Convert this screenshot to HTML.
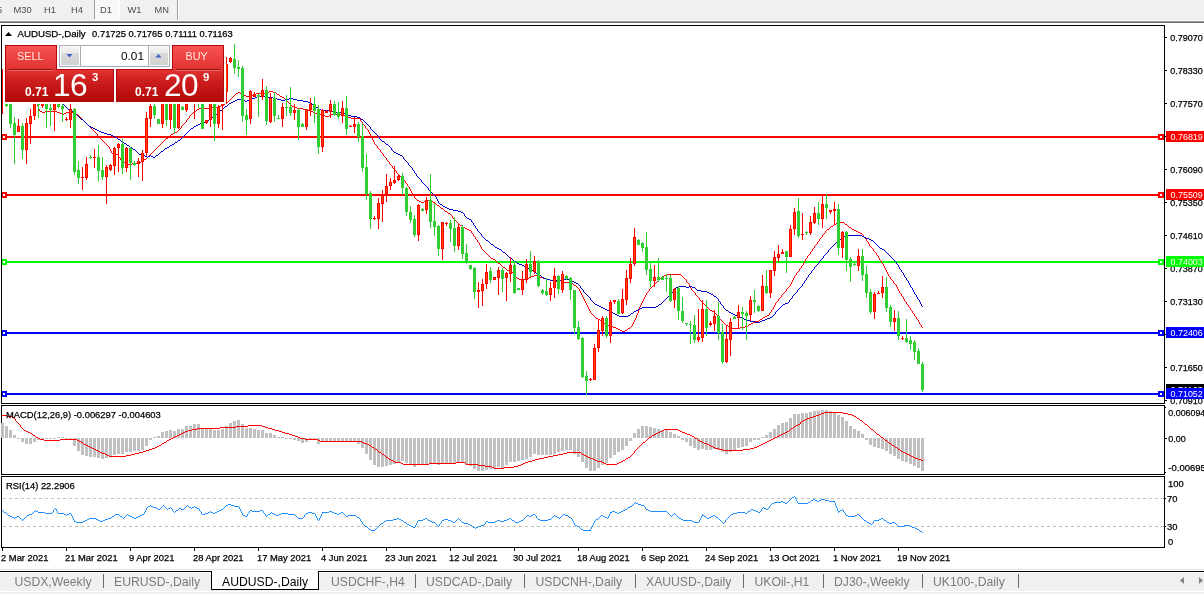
<!DOCTYPE html>
<html><head><meta charset="utf-8"><title>AUDUSD-,Daily</title>
<style>
html,body{margin:0;padding:0;background:#fff;}
body{width:1204px;height:594px;overflow:hidden;position:relative;font-family:"Liberation Sans",sans-serif;}
#tb{position:absolute;left:0;top:0;width:1204px;height:21px;background:#f0f0f0;}
#tb .l1{position:absolute;left:0;top:21px;width:1204px;height:1px;background:#a0a0a0;}
#tb .l2{position:absolute;left:0;top:22px;width:1204px;height:1px;background:#696969;}
#tb span{position:absolute;top:4px;font-size:9.3px;color:#4a4a4a;line-height:12px;white-space:nowrap;}
#tb .sep{position:absolute;top:0;width:1px;height:20px;background:#a0a0a0;}
#tb .sepw{position:absolute;top:0;width:1px;height:20px;background:#fff;}
#d1{position:absolute;left:95px;top:0;width:24px;height:19px;background-image:repeating-conic-gradient(#fff 0% 25%, #f0f0f0 0% 50%);background-size:2px 2px;}
svg{position:absolute;left:0;top:0;}
.ax{font-size:9.4px;fill:#000;stroke:#000;stroke-width:0.25px;font-family:"Liberation Sans",sans-serif;}
.axw{font-size:9.4px;fill:#fff;font-family:"Liberation Sans",sans-serif;}
#tabs{position:absolute;left:0;top:569px;width:1204px;height:25px;background:#f0f0f0;}
#tabs .t{position:absolute;top:6px;font-size:12.2px;color:#7a7a7a;line-height:14px;white-space:nowrap;}
#tabs .s{position:absolute;top:5px;width:1px;height:14px;background:#6a6a6a;}
#tabs .act{position:absolute;left:211px;top:2px;width:106px;height:18px;background:#fff;border:1px solid #000;border-top:none;}
#tabs .act span{position:absolute;left:10px;top:4px;font-size:12.2px;color:#000;line-height:14px;white-space:nowrap;}
/* trade panel */
.tp{position:absolute;font-family:"Liberation Sans",sans-serif;color:#fff;}
</style></head><body>

<div id="tb"><div class="l1"></div><div class="l2"></div>
<div class="sep" style="left:94px;height:19px"></div><div id="d1"></div><div class="sepw" style="left:119px;height:20px"></div><div style="position:absolute;left:94px;top:19px;width:26px;height:1px;background:#fff"></div>
<div class="sep" style="left:177px"></div><div class="sepw" style="left:178px"></div>
<span style="left:-3px">5</span>
<span style="left:13.5px">M30</span>
<span style="left:44px">H1</span>
<span style="left:71px">H4</span>
<span style="left:100px">D1</span>
<span style="left:127.5px">W1</span>
<span style="left:154.5px">MN</span>
</div>
<svg width="1204" height="594" viewBox="0 0 1204 594" shape-rendering="crispEdges">
<g fill="#000">
<rect x="1" y="25" width="1164" height="1"/><rect x="1" y="25" width="1" height="379"/><rect x="1" y="403" width="1164" height="1"/><rect x="1164" y="25" width="1" height="379"/>
<rect x="1" y="405" width="1164" height="1"/><rect x="1" y="405" width="1" height="70"/><rect x="1" y="474" width="1164" height="1"/><rect x="1164" y="405" width="1" height="70"/>
<rect x="1" y="476" width="1164" height="1"/><rect x="1" y="476" width="1" height="72"/><rect x="1" y="547" width="1164" height="1"/><rect x="1164" y="476" width="1" height="72"/>
<rect x="1165" y="37" width="2" height="1"/>
<rect x="1165" y="70" width="2" height="1"/>
<rect x="1165" y="103" width="2" height="1"/>
<rect x="1165" y="136" width="2" height="1"/>
<rect x="1165" y="169" width="2" height="1"/>
<rect x="1165" y="202" width="2" height="1"/>
<rect x="1165" y="235" width="2" height="1"/>
<rect x="1165" y="268" width="2" height="1"/>
<rect x="1165" y="301" width="2" height="1"/>
<rect x="1165" y="334" width="2" height="1"/>
<rect x="1165" y="367" width="2" height="1"/>
<rect x="1165" y="400" width="2" height="1"/>
<rect x="1165" y="407" width="1" height="1"/><rect x="1165" y="438" width="2" height="1"/><rect x="1165" y="472" width="1" height="1"/>
<rect x="1165" y="498" width="1" height="1"/><rect x="1165" y="526" width="1" height="1"/>
<rect x="2" y="548" width="1" height="3"/>
<rect x="66" y="548" width="1" height="3"/>
<rect x="130" y="548" width="1" height="3"/>
<rect x="194" y="548" width="1" height="3"/>
<rect x="258" y="548" width="1" height="3"/>
<rect x="322" y="548" width="1" height="3"/>
<rect x="386" y="548" width="1" height="3"/>
<rect x="450" y="548" width="1" height="3"/>
<rect x="514" y="548" width="1" height="3"/>
<rect x="578" y="548" width="1" height="3"/>
<rect x="642" y="548" width="1" height="3"/>
<rect x="706" y="548" width="1" height="3"/>
<rect x="770" y="548" width="1" height="3"/>
<rect x="834" y="548" width="1" height="3"/>
<rect x="898" y="548" width="1" height="3"/>
</g>
<g>
<rect x="2" y="136" width="1162" height="2" fill="#ff0000"/><rect x="1" y="134" width="6" height="6" fill="#ff0000"/><rect x="3" y="136" width="2" height="2" fill="#fff"/><rect x="1158" y="134" width="6" height="6" fill="#ff0000"/><rect x="1160" y="136" width="2" height="2" fill="#fff"/>
<rect x="2" y="194" width="1162" height="2" fill="#ff0000"/><rect x="1" y="192" width="6" height="6" fill="#ff0000"/><rect x="3" y="194" width="2" height="2" fill="#fff"/><rect x="1158" y="192" width="6" height="6" fill="#ff0000"/><rect x="1160" y="194" width="2" height="2" fill="#fff"/>
<rect x="2" y="261" width="1162" height="2" fill="#00ff00"/><rect x="1" y="259" width="6" height="6" fill="#00ff00"/><rect x="3" y="261" width="2" height="2" fill="#fff"/><rect x="1158" y="259" width="6" height="6" fill="#00ff00"/><rect x="1160" y="261" width="2" height="2" fill="#fff"/>
<rect x="2" y="332" width="1162" height="2" fill="#0000ff"/><rect x="1" y="330" width="6" height="6" fill="#0000ff"/><rect x="3" y="332" width="2" height="2" fill="#fff"/><rect x="1158" y="330" width="6" height="6" fill="#0000ff"/><rect x="1160" y="332" width="2" height="2" fill="#fff"/>
<rect x="2" y="393" width="1162" height="2" fill="#0000ff"/><rect x="1" y="391" width="6" height="6" fill="#0000ff"/><rect x="3" y="393" width="2" height="2" fill="#fff"/><rect x="1158" y="391" width="6" height="6" fill="#0000ff"/><rect x="1160" y="393" width="2" height="2" fill="#fff"/>
</g>
<g stroke="#c0c0c0" stroke-width="1" stroke-dasharray="3,3">
<line x1="3" y1="498.5" x2="1164" y2="498.5"/><line x1="3" y1="526.5" x2="1164" y2="526.5"/>
</g>
<g><rect x="1" y="423" width="3" height="15" fill="#c0c0c0"/>
<rect x="5" y="426" width="3" height="12" fill="#c0c0c0"/>
<rect x="9" y="430" width="3" height="8" fill="#c0c0c0"/>
<rect x="13" y="435" width="3" height="3" fill="#c0c0c0"/>
<rect x="17" y="438" width="3" height="1" fill="#c0c0c0"/>
<rect x="21" y="438" width="3" height="4" fill="#c0c0c0"/>
<rect x="25" y="438" width="3" height="6" fill="#c0c0c0"/>
<rect x="29" y="438" width="3" height="6" fill="#c0c0c0"/>
<rect x="33" y="438" width="3" height="4" fill="#c0c0c0"/>
<rect x="37" y="438" width="3" height="2" fill="#c0c0c0"/>
<rect x="41" y="438" width="3" height="2" fill="#c0c0c0"/>
<rect x="45" y="438" width="3" height="1" fill="#c0c0c0"/>
<rect x="49" y="438" width="3" height="1" fill="#c0c0c0"/>
<rect x="53" y="438" width="3" height="1" fill="#c0c0c0"/>
<rect x="57" y="437" width="3" height="1" fill="#c0c0c0"/>
<rect x="61" y="437" width="3" height="1" fill="#c0c0c0"/>
<rect x="65" y="438" width="3" height="1" fill="#c0c0c0"/>
<rect x="69" y="438" width="3" height="1" fill="#c0c0c0"/>
<rect x="73" y="438" width="3" height="8" fill="#c0c0c0"/>
<rect x="77" y="438" width="3" height="13" fill="#c0c0c0"/>
<rect x="81" y="438" width="3" height="17" fill="#c0c0c0"/>
<rect x="85" y="438" width="3" height="18" fill="#c0c0c0"/>
<rect x="89" y="438" width="3" height="19" fill="#c0c0c0"/>
<rect x="93" y="438" width="3" height="19" fill="#c0c0c0"/>
<rect x="97" y="438" width="3" height="20" fill="#c0c0c0"/>
<rect x="101" y="438" width="3" height="21" fill="#c0c0c0"/>
<rect x="105" y="438" width="3" height="20" fill="#c0c0c0"/>
<rect x="109" y="438" width="3" height="18" fill="#c0c0c0"/>
<rect x="113" y="438" width="3" height="17" fill="#c0c0c0"/>
<rect x="117" y="438" width="3" height="16" fill="#c0c0c0"/>
<rect x="121" y="438" width="3" height="16" fill="#c0c0c0"/>
<rect x="125" y="438" width="3" height="14" fill="#c0c0c0"/>
<rect x="129" y="438" width="3" height="14" fill="#c0c0c0"/>
<rect x="133" y="438" width="3" height="13" fill="#c0c0c0"/>
<rect x="137" y="438" width="3" height="13" fill="#c0c0c0"/>
<rect x="141" y="438" width="3" height="12" fill="#c0c0c0"/>
<rect x="145" y="438" width="3" height="8" fill="#c0c0c0"/>
<rect x="149" y="438" width="3" height="2" fill="#c0c0c0"/>
<rect x="153" y="437" width="3" height="1" fill="#c0c0c0"/>
<rect x="157" y="436" width="3" height="2" fill="#c0c0c0"/>
<rect x="161" y="432" width="3" height="6" fill="#c0c0c0"/>
<rect x="165" y="431" width="3" height="7" fill="#c0c0c0"/>
<rect x="169" y="430" width="3" height="8" fill="#c0c0c0"/>
<rect x="173" y="431" width="3" height="7" fill="#c0c0c0"/>
<rect x="177" y="429" width="3" height="9" fill="#c0c0c0"/>
<rect x="181" y="429" width="3" height="9" fill="#c0c0c0"/>
<rect x="185" y="426" width="3" height="12" fill="#c0c0c0"/>
<rect x="189" y="426" width="3" height="12" fill="#c0c0c0"/>
<rect x="193" y="424" width="3" height="14" fill="#c0c0c0"/>
<rect x="197" y="424" width="3" height="14" fill="#c0c0c0"/>
<rect x="201" y="428" width="3" height="10" fill="#c0c0c0"/>
<rect x="205" y="428" width="3" height="10" fill="#c0c0c0"/>
<rect x="209" y="428" width="3" height="10" fill="#c0c0c0"/>
<rect x="213" y="430" width="3" height="8" fill="#c0c0c0"/>
<rect x="217" y="430" width="3" height="8" fill="#c0c0c0"/>
<rect x="221" y="429" width="3" height="9" fill="#c0c0c0"/>
<rect x="225" y="426" width="3" height="12" fill="#c0c0c0"/>
<rect x="229" y="423" width="3" height="15" fill="#c0c0c0"/>
<rect x="233" y="421" width="3" height="17" fill="#c0c0c0"/>
<rect x="237" y="420" width="3" height="18" fill="#c0c0c0"/>
<rect x="241" y="424" width="3" height="14" fill="#c0c0c0"/>
<rect x="245" y="428" width="3" height="10" fill="#c0c0c0"/>
<rect x="249" y="428" width="3" height="10" fill="#c0c0c0"/>
<rect x="253" y="429" width="3" height="9" fill="#c0c0c0"/>
<rect x="257" y="430" width="3" height="8" fill="#c0c0c0"/>
<rect x="261" y="430" width="3" height="8" fill="#c0c0c0"/>
<rect x="265" y="433" width="3" height="5" fill="#c0c0c0"/>
<rect x="269" y="433" width="3" height="5" fill="#c0c0c0"/>
<rect x="273" y="435" width="3" height="3" fill="#c0c0c0"/>
<rect x="277" y="437" width="3" height="1" fill="#c0c0c0"/>
<rect x="281" y="437" width="3" height="1" fill="#c0c0c0"/>
<rect x="285" y="438" width="3" height="1" fill="#c0c0c0"/>
<rect x="289" y="438" width="3" height="1" fill="#c0c0c0"/>
<rect x="293" y="438" width="3" height="2" fill="#c0c0c0"/>
<rect x="297" y="438" width="3" height="3" fill="#c0c0c0"/>
<rect x="301" y="438" width="3" height="5" fill="#c0c0c0"/>
<rect x="305" y="438" width="3" height="4" fill="#c0c0c0"/>
<rect x="309" y="438" width="3" height="2" fill="#c0c0c0"/>
<rect x="313" y="438" width="3" height="2" fill="#c0c0c0"/>
<rect x="317" y="438" width="3" height="6" fill="#c0c0c0"/>
<rect x="321" y="438" width="3" height="4" fill="#c0c0c0"/>
<rect x="325" y="438" width="3" height="4" fill="#c0c0c0"/>
<rect x="329" y="438" width="3" height="4" fill="#c0c0c0"/>
<rect x="333" y="438" width="3" height="4" fill="#c0c0c0"/>
<rect x="337" y="438" width="3" height="4" fill="#c0c0c0"/>
<rect x="341" y="438" width="3" height="4" fill="#c0c0c0"/>
<rect x="345" y="438" width="3" height="4" fill="#c0c0c0"/>
<rect x="349" y="438" width="3" height="4" fill="#c0c0c0"/>
<rect x="353" y="438" width="3" height="4" fill="#c0c0c0"/>
<rect x="357" y="438" width="3" height="6" fill="#c0c0c0"/>
<rect x="361" y="438" width="3" height="10" fill="#c0c0c0"/>
<rect x="365" y="438" width="3" height="16" fill="#c0c0c0"/>
<rect x="369" y="438" width="3" height="22" fill="#c0c0c0"/>
<rect x="373" y="438" width="3" height="27" fill="#c0c0c0"/>
<rect x="377" y="438" width="3" height="29" fill="#c0c0c0"/>
<rect x="381" y="438" width="3" height="29" fill="#c0c0c0"/>
<rect x="385" y="438" width="3" height="28" fill="#c0c0c0"/>
<rect x="389" y="438" width="3" height="27" fill="#c0c0c0"/>
<rect x="393" y="438" width="3" height="26" fill="#c0c0c0"/>
<rect x="397" y="438" width="3" height="24" fill="#c0c0c0"/>
<rect x="401" y="438" width="3" height="23" fill="#c0c0c0"/>
<rect x="405" y="438" width="3" height="25" fill="#c0c0c0"/>
<rect x="409" y="438" width="3" height="26" fill="#c0c0c0"/>
<rect x="413" y="438" width="3" height="29" fill="#c0c0c0"/>
<rect x="417" y="438" width="3" height="27" fill="#c0c0c0"/>
<rect x="421" y="438" width="3" height="27" fill="#c0c0c0"/>
<rect x="425" y="438" width="3" height="26" fill="#c0c0c0"/>
<rect x="429" y="438" width="3" height="26" fill="#c0c0c0"/>
<rect x="433" y="438" width="3" height="26" fill="#c0c0c0"/>
<rect x="437" y="438" width="3" height="27" fill="#c0c0c0"/>
<rect x="441" y="438" width="3" height="26" fill="#c0c0c0"/>
<rect x="445" y="438" width="3" height="26" fill="#c0c0c0"/>
<rect x="449" y="438" width="3" height="25" fill="#c0c0c0"/>
<rect x="453" y="438" width="3" height="25" fill="#c0c0c0"/>
<rect x="457" y="438" width="3" height="24" fill="#c0c0c0"/>
<rect x="461" y="438" width="3" height="24" fill="#c0c0c0"/>
<rect x="465" y="438" width="3" height="27" fill="#c0c0c0"/>
<rect x="469" y="438" width="3" height="28" fill="#c0c0c0"/>
<rect x="473" y="438" width="3" height="31" fill="#c0c0c0"/>
<rect x="477" y="438" width="3" height="33" fill="#c0c0c0"/>
<rect x="481" y="438" width="3" height="33" fill="#c0c0c0"/>
<rect x="485" y="438" width="3" height="32" fill="#c0c0c0"/>
<rect x="489" y="438" width="3" height="31" fill="#c0c0c0"/>
<rect x="493" y="438" width="3" height="31" fill="#c0c0c0"/>
<rect x="497" y="438" width="3" height="29" fill="#c0c0c0"/>
<rect x="501" y="438" width="3" height="31" fill="#c0c0c0"/>
<rect x="505" y="438" width="3" height="27" fill="#c0c0c0"/>
<rect x="509" y="438" width="3" height="24" fill="#c0c0c0"/>
<rect x="513" y="438" width="3" height="24" fill="#c0c0c0"/>
<rect x="517" y="438" width="3" height="23" fill="#c0c0c0"/>
<rect x="521" y="438" width="3" height="22" fill="#c0c0c0"/>
<rect x="525" y="438" width="3" height="21" fill="#c0c0c0"/>
<rect x="529" y="438" width="3" height="19" fill="#c0c0c0"/>
<rect x="533" y="438" width="3" height="16" fill="#c0c0c0"/>
<rect x="537" y="438" width="3" height="17" fill="#c0c0c0"/>
<rect x="541" y="438" width="3" height="17" fill="#c0c0c0"/>
<rect x="545" y="438" width="3" height="17" fill="#c0c0c0"/>
<rect x="549" y="438" width="3" height="17" fill="#c0c0c0"/>
<rect x="553" y="438" width="3" height="16" fill="#c0c0c0"/>
<rect x="557" y="438" width="3" height="14" fill="#c0c0c0"/>
<rect x="561" y="438" width="3" height="13" fill="#c0c0c0"/>
<rect x="565" y="438" width="3" height="12" fill="#c0c0c0"/>
<rect x="569" y="438" width="3" height="12" fill="#c0c0c0"/>
<rect x="573" y="438" width="3" height="16" fill="#c0c0c0"/>
<rect x="577" y="438" width="3" height="19" fill="#c0c0c0"/>
<rect x="581" y="438" width="3" height="24" fill="#c0c0c0"/>
<rect x="585" y="438" width="3" height="30" fill="#c0c0c0"/>
<rect x="589" y="438" width="3" height="33" fill="#c0c0c0"/>
<rect x="593" y="438" width="3" height="33" fill="#c0c0c0"/>
<rect x="597" y="438" width="3" height="30" fill="#c0c0c0"/>
<rect x="601" y="438" width="3" height="27" fill="#c0c0c0"/>
<rect x="605" y="438" width="3" height="25" fill="#c0c0c0"/>
<rect x="609" y="438" width="3" height="20" fill="#c0c0c0"/>
<rect x="613" y="438" width="3" height="17" fill="#c0c0c0"/>
<rect x="617" y="438" width="3" height="14" fill="#c0c0c0"/>
<rect x="621" y="438" width="3" height="12" fill="#c0c0c0"/>
<rect x="625" y="438" width="3" height="8" fill="#c0c0c0"/>
<rect x="629" y="438" width="3" height="3" fill="#c0c0c0"/>
<rect x="633" y="433" width="3" height="5" fill="#c0c0c0"/>
<rect x="637" y="429" width="3" height="9" fill="#c0c0c0"/>
<rect x="641" y="426" width="3" height="12" fill="#c0c0c0"/>
<rect x="645" y="426" width="3" height="12" fill="#c0c0c0"/>
<rect x="649" y="427" width="3" height="11" fill="#c0c0c0"/>
<rect x="653" y="428" width="3" height="10" fill="#c0c0c0"/>
<rect x="657" y="429" width="3" height="9" fill="#c0c0c0"/>
<rect x="661" y="430" width="3" height="8" fill="#c0c0c0"/>
<rect x="665" y="430" width="3" height="8" fill="#c0c0c0"/>
<rect x="669" y="432" width="3" height="6" fill="#c0c0c0"/>
<rect x="673" y="434" width="3" height="4" fill="#c0c0c0"/>
<rect x="677" y="436" width="3" height="2" fill="#c0c0c0"/>
<rect x="681" y="438" width="3" height="2" fill="#c0c0c0"/>
<rect x="685" y="438" width="3" height="4" fill="#c0c0c0"/>
<rect x="689" y="438" width="3" height="8" fill="#c0c0c0"/>
<rect x="693" y="438" width="3" height="10" fill="#c0c0c0"/>
<rect x="697" y="438" width="3" height="12" fill="#c0c0c0"/>
<rect x="701" y="438" width="3" height="11" fill="#c0c0c0"/>
<rect x="705" y="438" width="3" height="12" fill="#c0c0c0"/>
<rect x="709" y="438" width="3" height="12" fill="#c0c0c0"/>
<rect x="713" y="438" width="3" height="11" fill="#c0c0c0"/>
<rect x="717" y="438" width="3" height="12" fill="#c0c0c0"/>
<rect x="721" y="438" width="3" height="14" fill="#c0c0c0"/>
<rect x="725" y="438" width="3" height="16" fill="#c0c0c0"/>
<rect x="729" y="438" width="3" height="14" fill="#c0c0c0"/>
<rect x="733" y="438" width="3" height="12" fill="#c0c0c0"/>
<rect x="737" y="438" width="3" height="10" fill="#c0c0c0"/>
<rect x="741" y="438" width="3" height="9" fill="#c0c0c0"/>
<rect x="745" y="438" width="3" height="8" fill="#c0c0c0"/>
<rect x="749" y="438" width="3" height="4" fill="#c0c0c0"/>
<rect x="753" y="438" width="3" height="2" fill="#c0c0c0"/>
<rect x="757" y="438" width="3" height="2" fill="#c0c0c0"/>
<rect x="761" y="437" width="3" height="1" fill="#c0c0c0"/>
<rect x="765" y="435" width="3" height="3" fill="#c0c0c0"/>
<rect x="769" y="432" width="3" height="6" fill="#c0c0c0"/>
<rect x="773" y="429" width="3" height="9" fill="#c0c0c0"/>
<rect x="777" y="425" width="3" height="13" fill="#c0c0c0"/>
<rect x="781" y="423" width="3" height="15" fill="#c0c0c0"/>
<rect x="785" y="422" width="3" height="16" fill="#c0c0c0"/>
<rect x="789" y="418" width="3" height="20" fill="#c0c0c0"/>
<rect x="793" y="414" width="3" height="24" fill="#c0c0c0"/>
<rect x="797" y="414" width="3" height="24" fill="#c0c0c0"/>
<rect x="801" y="413" width="3" height="25" fill="#c0c0c0"/>
<rect x="805" y="413" width="3" height="25" fill="#c0c0c0"/>
<rect x="809" y="412" width="3" height="26" fill="#c0c0c0"/>
<rect x="813" y="411" width="3" height="27" fill="#c0c0c0"/>
<rect x="817" y="411" width="3" height="27" fill="#c0c0c0"/>
<rect x="821" y="410" width="3" height="28" fill="#c0c0c0"/>
<rect x="825" y="410" width="3" height="28" fill="#c0c0c0"/>
<rect x="829" y="411" width="3" height="27" fill="#c0c0c0"/>
<rect x="833" y="412" width="3" height="26" fill="#c0c0c0"/>
<rect x="837" y="415" width="3" height="23" fill="#c0c0c0"/>
<rect x="841" y="417" width="3" height="21" fill="#c0c0c0"/>
<rect x="845" y="421" width="3" height="17" fill="#c0c0c0"/>
<rect x="849" y="426" width="3" height="12" fill="#c0c0c0"/>
<rect x="853" y="429" width="3" height="9" fill="#c0c0c0"/>
<rect x="857" y="431" width="3" height="7" fill="#c0c0c0"/>
<rect x="861" y="434" width="3" height="4" fill="#c0c0c0"/>
<rect x="865" y="438" width="3" height="2" fill="#c0c0c0"/>
<rect x="869" y="438" width="3" height="7" fill="#c0c0c0"/>
<rect x="873" y="438" width="3" height="9" fill="#c0c0c0"/>
<rect x="877" y="438" width="3" height="10" fill="#c0c0c0"/>
<rect x="881" y="438" width="3" height="11" fill="#c0c0c0"/>
<rect x="885" y="438" width="3" height="13" fill="#c0c0c0"/>
<rect x="889" y="438" width="3" height="16" fill="#c0c0c0"/>
<rect x="893" y="438" width="3" height="18" fill="#c0c0c0"/>
<rect x="897" y="438" width="3" height="21" fill="#c0c0c0"/>
<rect x="901" y="438" width="3" height="23" fill="#c0c0c0"/>
<rect x="905" y="438" width="3" height="24" fill="#c0c0c0"/>
<rect x="909" y="438" width="3" height="26" fill="#c0c0c0"/>
<rect x="913" y="438" width="3" height="28" fill="#c0c0c0"/>
<rect x="917" y="438" width="3" height="30" fill="#c0c0c0"/>
<rect x="921" y="438" width="3" height="33" fill="#c0c0c0"/></g>
<g shape-rendering="crispEdges">
<path d="M2 415h1v1h-1zM3 415h1v1h-1zM4 415h1v1h-1zM5 415h1v1h-1zM6 415h1v1h-1zM7 416h1v1h-1zM8 416h1v1h-1zM9 416h1v1h-1zM10 416h1v1h-1zM11 416h1v1h-1zM12 416h1v1h-1zM13 417h1v1h-1zM14 418h1v1h-1zM15 419h1v2h-1zM16 421h1v1h-1zM17 422h1v1h-1zM18 423h1v1h-1zM19 424h1v1h-1zM20 425h1v2h-1zM21 427h1v1h-1zM22 428h1v1h-1zM23 429h1v1h-1zM24 430h1v1h-1zM25 430h1v1h-1zM26 431h1v1h-1zM27 431h1v1h-1zM28 432h1v1h-1zM29 432h1v1h-1zM30 433h1v1h-1zM31 433h1v1h-1zM32 434h1v1h-1zM33 435h1v1h-1zM34 435h1v1h-1zM35 436h1v1h-1zM36 437h1v1h-1zM37 437h1v1h-1zM38 438h1v1h-1zM39 438h1v1h-1zM40 439h1v1h-1zM41 439h1v1h-1zM42 439h1v1h-1zM43 439h1v1h-1zM44 440h1v1h-1zM45 440h1v1h-1zM46 440h1v1h-1zM47 440h1v1h-1zM48 440h1v1h-1zM49 440h1v1h-1zM50 440h1v1h-1zM51 440h1v1h-1zM52 440h1v1h-1zM53 440h1v1h-1zM54 440h1v1h-1zM55 440h1v1h-1zM56 440h1v1h-1zM57 440h1v1h-1zM58 440h1v1h-1zM59 440h1v1h-1zM60 439h1v1h-1zM61 439h1v1h-1zM62 439h1v1h-1zM63 439h1v1h-1zM64 439h1v1h-1zM65 439h1v1h-1zM66 439h1v1h-1zM67 439h1v1h-1zM68 439h1v1h-1zM69 439h1v1h-1zM70 439h1v1h-1zM71 439h1v1h-1zM72 439h1v1h-1zM73 439h1v1h-1zM74 439h1v1h-1zM75 439h1v1h-1zM76 439h1v1h-1zM77 440h1v1h-1zM78 440h1v1h-1zM79 441h1v1h-1zM80 441h1v1h-1zM81 442h1v1h-1zM82 442h1v1h-1zM83 443h1v1h-1zM84 444h1v1h-1zM85 444h1v1h-1zM86 445h1v1h-1zM87 445h1v1h-1zM88 446h1v1h-1zM89 446h1v1h-1zM90 447h1v1h-1zM91 447h1v1h-1zM92 448h1v1h-1zM93 448h1v1h-1zM94 449h1v1h-1zM95 449h1v1h-1zM96 450h1v1h-1zM97 450h1v1h-1zM98 451h1v1h-1zM99 451h1v1h-1zM100 452h1v1h-1zM101 452h1v1h-1zM102 453h1v1h-1zM103 453h1v1h-1zM104 453h1v1h-1zM105 454h1v1h-1zM106 454h1v1h-1zM107 455h1v1h-1zM108 455h1v1h-1zM109 456h1v1h-1zM110 456h1v1h-1zM111 456h1v1h-1zM112 456h1v1h-1zM113 456h1v1h-1zM114 456h1v1h-1zM115 456h1v1h-1zM116 456h1v1h-1zM117 456h1v1h-1zM118 456h1v1h-1zM119 456h1v1h-1zM120 456h1v1h-1zM121 456h1v1h-1zM122 456h1v1h-1zM123 456h1v1h-1zM124 456h1v1h-1zM125 456h1v1h-1zM126 455h1v1h-1zM127 455h1v1h-1zM128 455h1v1h-1zM129 455h1v1h-1zM130 455h1v1h-1zM131 454h1v1h-1zM132 454h1v1h-1zM133 454h1v1h-1zM134 454h1v1h-1zM135 453h1v1h-1zM136 453h1v1h-1zM137 453h1v1h-1zM138 453h1v1h-1zM139 452h1v1h-1zM140 452h1v1h-1zM141 452h1v1h-1zM142 452h1v1h-1zM143 451h1v1h-1zM144 451h1v1h-1zM145 451h1v1h-1zM146 450h1v1h-1zM147 450h1v1h-1zM148 450h1v1h-1zM149 449h1v1h-1zM150 449h1v1h-1zM151 449h1v1h-1zM152 448h1v1h-1zM153 448h1v1h-1zM154 448h1v1h-1zM155 447h1v1h-1zM156 447h1v1h-1zM157 446h1v1h-1zM158 446h1v1h-1zM159 445h1v1h-1zM160 445h1v1h-1zM161 444h1v1h-1zM162 443h1v1h-1zM163 443h1v1h-1zM164 442h1v1h-1zM165 442h1v1h-1zM166 441h1v1h-1zM167 440h1v1h-1zM168 440h1v1h-1zM169 439h1v1h-1zM170 439h1v1h-1zM171 438h1v1h-1zM172 438h1v1h-1zM173 437h1v1h-1zM174 437h1v1h-1zM175 436h1v1h-1zM176 436h1v1h-1zM177 435h1v1h-1zM178 435h1v1h-1zM179 434h1v1h-1zM180 434h1v1h-1zM181 433h1v1h-1zM182 433h1v1h-1zM183 432h1v1h-1zM184 432h1v1h-1zM185 431h1v1h-1zM186 431h1v1h-1zM187 431h1v1h-1zM188 430h1v1h-1zM189 430h1v1h-1zM190 430h1v1h-1zM191 430h1v1h-1zM192 429h1v1h-1zM193 429h1v1h-1zM194 429h1v1h-1zM195 429h1v1h-1zM196 429h1v1h-1zM197 428h1v1h-1zM198 428h1v1h-1zM199 428h1v1h-1zM200 428h1v1h-1zM201 428h1v1h-1zM202 428h1v1h-1zM203 428h1v1h-1zM204 428h1v1h-1zM205 428h1v1h-1zM206 428h1v1h-1zM207 428h1v1h-1zM208 428h1v1h-1zM209 428h1v1h-1zM210 428h1v1h-1zM211 428h1v1h-1zM212 428h1v1h-1zM213 428h1v1h-1zM214 428h1v1h-1zM215 428h1v1h-1zM216 428h1v1h-1zM217 428h1v1h-1zM218 428h1v1h-1zM219 428h1v1h-1zM220 427h1v1h-1zM221 427h1v1h-1zM222 427h1v1h-1zM223 427h1v1h-1zM224 427h1v1h-1zM225 427h1v1h-1zM226 427h1v1h-1zM227 427h1v1h-1zM228 427h1v1h-1zM229 427h1v1h-1zM230 427h1v1h-1zM231 427h1v1h-1zM232 427h1v1h-1zM233 427h1v1h-1zM234 427h1v1h-1zM235 427h1v1h-1zM236 426h1v1h-1zM237 426h1v1h-1zM238 426h1v1h-1zM239 426h1v1h-1zM240 426h1v1h-1zM241 426h1v1h-1zM242 426h1v1h-1zM243 426h1v1h-1zM244 426h1v1h-1zM245 426h1v1h-1zM246 426h1v1h-1zM247 426h1v1h-1zM248 425h1v1h-1zM249 425h1v1h-1zM250 425h1v1h-1zM251 425h1v1h-1zM252 425h1v1h-1zM253 425h1v1h-1zM254 425h1v1h-1zM255 425h1v1h-1zM256 425h1v1h-1zM257 425h1v1h-1zM258 425h1v1h-1zM259 425h1v1h-1zM260 425h1v1h-1zM261 425h1v1h-1zM262 426h1v1h-1zM263 426h1v1h-1zM264 426h1v1h-1zM265 427h1v1h-1zM266 427h1v1h-1zM267 427h1v1h-1zM268 428h1v1h-1zM269 428h1v1h-1zM270 428h1v1h-1zM271 428h1v1h-1zM272 429h1v1h-1zM273 429h1v1h-1zM274 429h1v1h-1zM275 430h1v1h-1zM276 430h1v1h-1zM277 430h1v1h-1zM278 430h1v1h-1zM279 431h1v1h-1zM280 431h1v1h-1zM281 431h1v1h-1zM282 432h1v1h-1zM283 432h1v1h-1zM284 432h1v1h-1zM285 433h1v1h-1zM286 433h1v1h-1zM287 433h1v1h-1zM288 433h1v1h-1zM289 434h1v1h-1zM290 434h1v1h-1zM291 434h1v1h-1zM292 435h1v1h-1zM293 435h1v1h-1zM294 435h1v1h-1zM295 436h1v1h-1zM296 436h1v1h-1zM297 436h1v1h-1zM298 437h1v1h-1zM299 437h1v1h-1zM300 438h1v1h-1zM301 438h1v1h-1zM302 438h1v1h-1zM303 438h1v1h-1zM304 438h1v1h-1zM305 439h1v1h-1zM306 439h1v1h-1zM307 439h1v1h-1zM308 439h1v1h-1zM309 439h1v1h-1zM310 439h1v1h-1zM311 439h1v1h-1zM312 439h1v1h-1zM313 439h1v1h-1zM314 439h1v1h-1zM315 439h1v1h-1zM316 439h1v1h-1zM317 439h1v1h-1zM318 440h1v1h-1zM319 440h1v1h-1zM320 441h1v1h-1zM321 441h1v1h-1zM322 441h1v1h-1zM323 441h1v1h-1zM324 441h1v1h-1zM325 441h1v1h-1zM326 441h1v1h-1zM327 441h1v1h-1zM328 441h1v1h-1zM329 441h1v1h-1zM330 441h1v1h-1zM331 441h1v1h-1zM332 441h1v1h-1zM333 441h1v1h-1zM334 441h1v1h-1zM335 441h1v1h-1zM336 441h1v1h-1zM337 441h1v1h-1zM338 441h1v1h-1zM339 441h1v1h-1zM340 441h1v1h-1zM341 441h1v1h-1zM342 441h1v1h-1zM343 441h1v1h-1zM344 441h1v1h-1zM345 441h1v1h-1zM346 441h1v1h-1zM347 441h1v1h-1zM348 441h1v1h-1zM349 441h1v1h-1zM350 441h1v1h-1zM351 441h1v1h-1zM352 441h1v1h-1zM353 441h1v1h-1zM354 441h1v1h-1zM355 441h1v1h-1zM356 441h1v1h-1zM357 441h1v1h-1zM358 441h1v1h-1zM359 441h1v1h-1zM360 441h1v1h-1zM361 441h1v1h-1zM362 442h1v1h-1zM363 442h1v1h-1zM364 443h1v1h-1zM365 443h1v1h-1zM366 443h1v1h-1zM367 444h1v1h-1zM368 444h1v1h-1zM369 445h1v1h-1zM370 445h1v1h-1zM371 446h1v1h-1zM372 447h1v1h-1zM373 447h1v1h-1zM374 448h1v1h-1zM375 449h1v1h-1zM376 449h1v1h-1zM377 450h1v1h-1zM378 451h1v1h-1zM379 452h1v1h-1zM380 452h1v1h-1zM381 453h1v1h-1zM382 454h1v1h-1zM383 454h1v1h-1zM384 455h1v1h-1zM385 456h1v1h-1zM386 457h1v1h-1zM387 457h1v1h-1zM388 458h1v1h-1zM389 459h1v1h-1zM390 459h1v1h-1zM391 460h1v1h-1zM392 460h1v1h-1zM393 461h1v1h-1zM394 461h1v1h-1zM395 462h1v1h-1zM396 462h1v1h-1zM397 462h1v1h-1zM398 462h1v1h-1zM399 462h1v1h-1zM400 462h1v1h-1zM401 463h1v1h-1zM402 463h1v1h-1zM403 464h1v1h-1zM404 464h1v1h-1zM405 464h1v1h-1zM406 464h1v1h-1zM407 464h1v1h-1zM408 464h1v1h-1zM409 464h1v1h-1zM410 464h1v1h-1zM411 464h1v1h-1zM412 464h1v1h-1zM413 464h1v1h-1zM414 464h1v1h-1zM415 464h1v1h-1zM416 464h1v1h-1zM417 464h1v1h-1zM418 464h1v1h-1zM419 464h1v1h-1zM420 464h1v1h-1zM421 464h1v1h-1zM422 464h1v1h-1zM423 464h1v1h-1zM424 464h1v1h-1zM425 464h1v1h-1zM426 464h1v1h-1zM427 464h1v1h-1zM428 464h1v1h-1zM429 463h1v1h-1zM430 463h1v1h-1zM431 463h1v1h-1zM432 463h1v1h-1zM433 463h1v1h-1zM434 463h1v1h-1zM435 463h1v1h-1zM436 463h1v1h-1zM437 463h1v1h-1zM438 463h1v1h-1zM439 463h1v1h-1zM440 463h1v1h-1zM441 463h1v1h-1zM442 463h1v1h-1zM443 463h1v1h-1zM444 463h1v1h-1zM445 463h1v1h-1zM446 463h1v1h-1zM447 463h1v1h-1zM448 463h1v1h-1zM449 463h1v1h-1zM450 463h1v1h-1zM451 463h1v1h-1zM452 463h1v1h-1zM453 463h1v1h-1zM454 463h1v1h-1zM455 463h1v1h-1zM456 462h1v1h-1zM457 462h1v1h-1zM458 462h1v1h-1zM459 462h1v1h-1zM460 462h1v1h-1zM461 462h1v1h-1zM462 462h1v1h-1zM463 462h1v1h-1zM464 462h1v1h-1zM465 463h1v1h-1zM466 464h1v1h-1zM467 464h1v1h-1zM468 464h1v1h-1zM469 464h1v1h-1zM470 464h1v1h-1zM471 464h1v1h-1zM472 464h1v1h-1zM473 464h1v1h-1zM474 464h1v1h-1zM475 464h1v1h-1zM476 464h1v1h-1zM477 464h1v1h-1zM478 465h1v1h-1zM479 465h1v1h-1zM480 465h1v1h-1zM481 465h1v1h-1zM482 465h1v1h-1zM483 465h1v1h-1zM484 465h1v1h-1zM485 466h1v1h-1zM486 466h1v1h-1zM487 466h1v1h-1zM488 466h1v1h-1zM489 466h1v1h-1zM490 466h1v1h-1zM491 466h1v1h-1zM492 467h1v1h-1zM493 467h1v1h-1zM494 468h1v1h-1zM495 468h1v1h-1zM496 468h1v1h-1zM497 468h1v1h-1zM498 468h1v1h-1zM499 468h1v1h-1zM500 468h1v1h-1zM501 468h1v1h-1zM502 468h1v1h-1zM503 468h1v1h-1zM504 467h1v1h-1zM505 467h1v1h-1zM506 467h1v1h-1zM507 467h1v1h-1zM508 467h1v1h-1zM509 467h1v1h-1zM510 467h1v1h-1zM511 467h1v1h-1zM512 467h1v1h-1zM513 467h1v1h-1zM514 466h1v1h-1zM515 466h1v1h-1zM516 466h1v1h-1zM517 466h1v1h-1zM518 465h1v1h-1zM519 465h1v1h-1zM520 465h1v1h-1zM521 464h1v1h-1zM522 464h1v1h-1zM523 463h1v1h-1zM524 463h1v1h-1zM525 462h1v1h-1zM526 462h1v1h-1zM527 462h1v1h-1zM528 461h1v1h-1zM529 461h1v1h-1zM530 461h1v1h-1zM531 461h1v1h-1zM532 460h1v1h-1zM533 460h1v1h-1zM534 460h1v1h-1zM535 459h1v1h-1zM536 459h1v1h-1zM537 459h1v1h-1zM538 459h1v1h-1zM539 458h1v1h-1zM540 458h1v1h-1zM541 458h1v1h-1zM542 458h1v1h-1zM543 458h1v1h-1zM544 457h1v1h-1zM545 457h1v1h-1zM546 457h1v1h-1zM547 457h1v1h-1zM548 456h1v1h-1zM549 456h1v1h-1zM550 456h1v1h-1zM551 456h1v1h-1zM552 456h1v1h-1zM553 455h1v1h-1zM554 455h1v1h-1zM555 455h1v1h-1zM556 455h1v1h-1zM557 455h1v1h-1zM558 454h1v1h-1zM559 454h1v1h-1zM560 454h1v1h-1zM561 454h1v1h-1zM562 454h1v1h-1zM563 453h1v1h-1zM564 453h1v1h-1zM565 453h1v1h-1zM566 453h1v1h-1zM567 452h1v1h-1zM568 452h1v1h-1zM569 452h1v1h-1zM570 452h1v1h-1zM571 452h1v1h-1zM572 452h1v1h-1zM573 452h1v1h-1zM574 452h1v1h-1zM575 452h1v1h-1zM576 452h1v1h-1zM577 452h1v1h-1zM578 452h1v1h-1zM579 452h1v1h-1zM580 452h1v1h-1zM581 453h1v1h-1zM582 454h1v1h-1zM583 454h1v1h-1zM584 455h1v1h-1zM585 455h1v1h-1zM586 456h1v1h-1zM587 456h1v1h-1zM588 457h1v1h-1zM589 457h1v1h-1zM590 458h1v1h-1zM591 458h1v1h-1zM592 458h1v1h-1zM593 459h1v1h-1zM594 459h1v1h-1zM595 460h1v1h-1zM596 460h1v1h-1zM597 461h1v1h-1zM598 461h1v1h-1zM599 461h1v1h-1zM600 461h1v1h-1zM601 461h1v1h-1zM602 462h1v1h-1zM603 462h1v1h-1zM604 463h1v1h-1zM605 463h1v1h-1zM606 464h1v1h-1zM607 464h1v1h-1zM608 464h1v1h-1zM609 464h1v1h-1zM610 464h1v1h-1zM611 464h1v1h-1zM612 464h1v1h-1zM613 464h1v1h-1zM614 464h1v1h-1zM615 464h1v1h-1zM616 464h1v1h-1zM617 463h1v1h-1zM618 463h1v1h-1zM619 462h1v1h-1zM620 462h1v1h-1zM621 461h1v1h-1zM622 461h1v1h-1zM623 460h1v1h-1zM624 460h1v1h-1zM625 459h1v1h-1zM626 458h1v1h-1zM627 458h1v1h-1zM628 457h1v1h-1zM629 457h1v1h-1zM630 456h1v1h-1zM631 455h1v1h-1zM632 454h1v1h-1zM633 453h1v1h-1zM634 451h1v2h-1zM635 450h1v1h-1zM636 449h1v1h-1zM637 448h1v1h-1zM638 447h1v1h-1zM639 446h1v1h-1zM640 445h1v1h-1zM641 444h1v1h-1zM642 443h1v1h-1zM643 442h1v1h-1zM644 442h1v1h-1zM645 441h1v1h-1zM646 440h1v1h-1zM647 439h1v1h-1zM648 438h1v1h-1zM649 437h1v1h-1zM650 437h1v1h-1zM651 436h1v1h-1zM652 435h1v1h-1zM653 435h1v1h-1zM654 434h1v1h-1zM655 434h1v1h-1zM656 433h1v1h-1zM657 433h1v1h-1zM658 432h1v1h-1zM659 432h1v1h-1zM660 431h1v1h-1zM661 431h1v1h-1zM662 430h1v1h-1zM663 430h1v1h-1zM664 429h1v1h-1zM665 429h1v1h-1zM666 429h1v1h-1zM667 429h1v1h-1zM668 429h1v1h-1zM669 429h1v1h-1zM670 429h1v1h-1zM671 429h1v1h-1zM672 429h1v1h-1zM673 429h1v1h-1zM674 429h1v1h-1zM675 429h1v1h-1zM676 429h1v1h-1zM677 429h1v1h-1zM678 430h1v1h-1zM679 430h1v1h-1zM680 431h1v1h-1zM681 431h1v1h-1zM682 432h1v1h-1zM683 432h1v1h-1zM684 432h1v1h-1zM685 433h1v1h-1zM686 433h1v1h-1zM687 434h1v1h-1zM688 434h1v1h-1zM689 434h1v1h-1zM690 435h1v1h-1zM691 435h1v1h-1zM692 436h1v1h-1zM693 436h1v1h-1zM694 437h1v1h-1zM695 438h1v1h-1zM696 438h1v1h-1zM697 439h1v1h-1zM698 440h1v1h-1zM699 440h1v1h-1zM700 441h1v1h-1zM701 441h1v1h-1zM702 442h1v1h-1zM703 442h1v1h-1zM704 443h1v1h-1zM705 443h1v1h-1zM706 443h1v1h-1zM707 444h1v1h-1zM708 444h1v1h-1zM709 445h1v1h-1zM710 445h1v1h-1zM711 446h1v1h-1zM712 446h1v1h-1zM713 447h1v1h-1zM714 447h1v1h-1zM715 448h1v1h-1zM716 448h1v1h-1zM717 448h1v1h-1zM718 448h1v1h-1zM719 449h1v1h-1zM720 449h1v1h-1zM721 449h1v1h-1zM722 449h1v1h-1zM723 450h1v1h-1zM724 450h1v1h-1zM725 450h1v1h-1zM726 450h1v1h-1zM727 450h1v1h-1zM728 450h1v1h-1zM729 450h1v1h-1zM730 450h1v1h-1zM731 450h1v1h-1zM732 450h1v1h-1zM733 450h1v1h-1zM734 450h1v1h-1zM735 450h1v1h-1zM736 450h1v1h-1zM737 450h1v1h-1zM738 450h1v1h-1zM739 450h1v1h-1zM740 450h1v1h-1zM741 450h1v1h-1zM742 450h1v1h-1zM743 449h1v1h-1zM744 449h1v1h-1zM745 449h1v1h-1zM746 449h1v1h-1zM747 449h1v1h-1zM748 449h1v1h-1zM749 449h1v1h-1zM750 448h1v1h-1zM751 448h1v1h-1zM752 448h1v1h-1zM753 448h1v1h-1zM754 447h1v1h-1zM755 447h1v1h-1zM756 447h1v1h-1zM757 446h1v1h-1zM758 446h1v1h-1zM759 445h1v1h-1zM760 445h1v1h-1zM761 444h1v1h-1zM762 444h1v1h-1zM763 443h1v1h-1zM764 443h1v1h-1zM765 442h1v1h-1zM766 442h1v1h-1zM767 441h1v1h-1zM768 441h1v1h-1zM769 440h1v1h-1zM770 440h1v1h-1zM771 439h1v1h-1zM772 439h1v1h-1zM773 438h1v1h-1zM774 438h1v1h-1zM775 437h1v1h-1zM776 437h1v1h-1zM777 436h1v1h-1zM778 436h1v1h-1zM779 435h1v1h-1zM780 435h1v1h-1zM781 434h1v1h-1zM782 434h1v1h-1zM783 433h1v1h-1zM784 433h1v1h-1zM785 432h1v1h-1zM786 432h1v1h-1zM787 431h1v1h-1zM788 431h1v1h-1zM789 430h1v1h-1zM790 429h1v1h-1zM791 428h1v1h-1zM792 428h1v1h-1zM793 427h1v1h-1zM794 426h1v1h-1zM795 426h1v1h-1zM796 425h1v1h-1zM797 425h1v1h-1zM798 424h1v1h-1zM799 424h1v1h-1zM800 422h1v2h-1zM801 421h1v1h-1zM802 421h1v1h-1zM803 420h1v1h-1zM804 420h1v1h-1zM805 419h1v1h-1zM806 419h1v1h-1zM807 418h1v1h-1zM808 418h1v1h-1zM809 418h1v1h-1zM810 417h1v1h-1zM811 417h1v1h-1zM812 417h1v1h-1zM813 416h1v1h-1zM814 416h1v1h-1zM815 416h1v1h-1zM816 415h1v1h-1zM817 415h1v1h-1zM818 415h1v1h-1zM819 414h1v1h-1zM820 414h1v1h-1zM821 413h1v1h-1zM822 413h1v1h-1zM823 413h1v1h-1zM824 412h1v1h-1zM825 412h1v1h-1zM826 412h1v1h-1zM827 412h1v1h-1zM828 412h1v1h-1zM829 412h1v1h-1zM830 412h1v1h-1zM831 412h1v1h-1zM832 412h1v1h-1zM833 412h1v1h-1zM834 412h1v1h-1zM835 412h1v1h-1zM836 412h1v1h-1zM837 412h1v1h-1zM838 412h1v1h-1zM839 412h1v1h-1zM840 412h1v1h-1zM841 412h1v1h-1zM842 412h1v1h-1zM843 413h1v1h-1zM844 413h1v1h-1zM845 413h1v1h-1zM846 413h1v1h-1zM847 413h1v1h-1zM848 414h1v1h-1zM849 414h1v1h-1zM850 414h1v1h-1zM851 414h1v1h-1zM852 415h1v1h-1zM853 415h1v1h-1zM854 416h1v1h-1zM855 416h1v1h-1zM856 417h1v1h-1zM857 418h1v1h-1zM858 418h1v1h-1zM859 419h1v1h-1zM860 420h1v1h-1zM861 420h1v1h-1zM862 421h1v1h-1zM863 422h1v1h-1zM864 423h1v1h-1zM865 424h1v1h-1zM866 424h1v1h-1zM867 425h1v1h-1zM868 426h1v1h-1zM869 427h1v1h-1zM870 428h1v1h-1zM871 429h1v1h-1zM872 429h1v1h-1zM873 430h1v1h-1zM874 431h1v1h-1zM875 432h1v1h-1zM876 433h1v1h-1zM877 434h1v1h-1zM878 434h1v1h-1zM879 435h1v1h-1zM880 436h1v1h-1zM881 437h1v1h-1zM882 437h1v1h-1zM883 438h1v1h-1zM884 439h1v1h-1zM885 440h1v1h-1zM886 440h1v1h-1zM887 441h1v1h-1zM888 442h1v1h-1zM889 443h1v1h-1zM890 443h1v1h-1zM891 444h1v1h-1zM892 445h1v1h-1zM893 445h1v1h-1zM894 446h1v1h-1zM895 447h1v1h-1zM896 447h1v1h-1zM897 448h1v1h-1zM898 449h1v1h-1zM899 449h1v1h-1zM900 450h1v1h-1zM901 451h1v1h-1zM902 451h1v1h-1zM903 452h1v1h-1zM904 452h1v1h-1zM905 453h1v1h-1zM906 453h1v1h-1zM907 454h1v1h-1zM908 454h1v1h-1zM909 455h1v1h-1zM910 455h1v1h-1zM911 456h1v1h-1zM912 456h1v1h-1zM913 457h1v1h-1zM914 457h1v1h-1zM915 458h1v1h-1zM916 458h1v1h-1zM917 458h1v1h-1zM918 459h1v1h-1zM919 459h1v1h-1zM920 459h1v1h-1zM921 460h1v1h-1zM922 460h1v1h-1z" fill="#ff0000"/>
<path d="M2 510h1v1h-1zM3 511h1v1h-1zM4 512h1v1h-1zM5 512h1v1h-1zM6 513h1v1h-1zM7 514h1v1h-1zM8 515h1v1h-1zM9 515h1v1h-1zM10 516h1v1h-1zM11 516h1v1h-1zM12 517h1v1h-1zM13 517h1v1h-1zM14 518h1v1h-1zM15 517h1v1h-1zM16 517h1v1h-1zM17 516h1v1h-1zM18 516h1v1h-1zM19 517h1v1h-1zM20 518h1v1h-1zM21 519h1v1h-1zM22 520h1v1h-1zM23 519h1v1h-1zM24 518h1v1h-1zM25 517h1v1h-1zM26 516h1v1h-1zM27 515h1v1h-1zM28 515h1v1h-1zM29 514h1v1h-1zM30 514h1v1h-1zM31 514h1v1h-1zM32 513h1v1h-1zM33 512h1v1h-1zM34 511h1v1h-1zM35 510h1v1h-1zM36 511h1v1h-1zM37 511h1v1h-1zM38 512h1v1h-1zM39 512h1v1h-1zM40 512h1v1h-1zM41 512h1v1h-1zM42 512h1v1h-1zM43 512h1v1h-1zM44 512h1v1h-1zM45 513h1v1h-1zM46 513h1v1h-1zM47 513h1v1h-1zM48 513h1v1h-1zM49 513h1v1h-1zM50 513h1v1h-1zM51 513h1v1h-1zM52 512h1v1h-1zM53 510h1v2h-1zM54 509h1v1h-1zM55 508h1v1h-1zM56 509h1v2h-1zM57 511h1v2h-1zM58 513h1v1h-1zM59 513h1v1h-1zM60 513h1v1h-1zM61 513h1v1h-1zM62 513h1v1h-1zM63 513h1v1h-1zM64 514h1v1h-1zM65 514h1v1h-1zM66 515h1v1h-1zM67 514h1v1h-1zM68 514h1v1h-1zM69 513h1v1h-1zM70 513h1v1h-1zM71 514h1v2h-1zM72 516h1v2h-1zM73 518h1v2h-1zM74 520h1v2h-1zM75 521h1v1h-1zM76 522h1v1h-1zM77 522h1v1h-1zM78 522h1v1h-1zM79 522h1v1h-1zM80 522h1v1h-1zM81 522h1v1h-1zM82 522h1v1h-1zM83 521h1v1h-1zM84 521h1v1h-1zM85 520h1v1h-1zM86 520h1v1h-1zM87 519h1v1h-1zM88 519h1v1h-1zM89 518h1v1h-1zM90 518h1v1h-1zM91 518h1v1h-1zM92 518h1v1h-1zM93 518h1v1h-1zM94 518h1v1h-1zM95 518h1v1h-1zM96 519h1v1h-1zM97 519h1v1h-1zM98 520h1v1h-1zM99 520h1v1h-1zM100 521h1v1h-1zM101 521h1v1h-1zM102 521h1v1h-1zM103 520h1v1h-1zM104 520h1v1h-1zM105 519h1v1h-1zM106 519h1v1h-1zM107 519h1v1h-1zM108 518h1v1h-1zM109 518h1v1h-1zM110 518h1v1h-1zM111 517h1v1h-1zM112 516h1v1h-1zM113 516h1v1h-1zM114 515h1v1h-1zM115 514h1v1h-1zM116 514h1v1h-1zM117 514h1v1h-1zM118 514h1v1h-1zM119 515h1v1h-1zM120 516h1v1h-1zM121 516h1v1h-1zM122 517h1v1h-1zM123 518h1v1h-1zM124 517h1v1h-1zM125 516h1v1h-1zM126 515h1v1h-1zM127 514h1v1h-1zM128 515h1v1h-1zM129 515h1v1h-1zM130 516h1v1h-1zM131 516h1v1h-1zM132 517h1v1h-1zM133 517h1v1h-1zM134 518h1v1h-1zM135 518h1v1h-1zM136 517h1v1h-1zM137 517h1v1h-1zM138 516h1v1h-1zM139 516h1v1h-1zM140 515h1v1h-1zM141 515h1v1h-1zM142 514h1v1h-1zM143 514h1v1h-1zM144 512h1v2h-1zM145 510h1v2h-1zM146 508h1v2h-1zM147 507h1v1h-1zM148 506h1v1h-1zM149 506h1v1h-1zM150 505h1v1h-1zM151 506h1v1h-1zM152 506h1v1h-1zM153 507h1v1h-1zM154 507h1v1h-1zM155 507h1v1h-1zM156 508h1v1h-1zM157 508h1v1h-1zM158 509h1v1h-1zM159 509h1v1h-1zM160 508h1v1h-1zM161 507h1v1h-1zM162 506h1v1h-1zM163 505h1v1h-1zM164 506h1v1h-1zM165 507h1v1h-1zM166 508h1v1h-1zM167 509h1v1h-1zM168 508h1v1h-1zM169 508h1v1h-1zM170 507h1v1h-1zM171 508h1v1h-1zM172 509h1v2h-1zM173 511h1v1h-1zM174 512h1v1h-1zM175 511h1v1h-1zM176 510h1v1h-1zM177 510h1v1h-1zM178 509h1v1h-1zM179 508h1v1h-1zM180 508h1v1h-1zM181 509h1v1h-1zM182 509h1v1h-1zM183 509h1v1h-1zM184 508h1v1h-1zM185 507h1v1h-1zM186 506h1v1h-1zM187 505h1v1h-1zM188 506h1v1h-1zM189 507h1v1h-1zM190 507h1v1h-1zM191 508h1v1h-1zM192 507h1v1h-1zM193 507h1v1h-1zM194 506h1v1h-1zM195 507h1v1h-1zM196 507h1v1h-1zM197 508h1v1h-1zM198 508h1v1h-1zM199 509h1v2h-1zM200 511h1v1h-1zM201 512h1v2h-1zM202 514h1v1h-1zM203 514h1v1h-1zM204 514h1v1h-1zM205 513h1v1h-1zM206 513h1v1h-1zM207 513h1v1h-1zM208 512h1v1h-1zM209 512h1v1h-1zM210 511h1v1h-1zM211 512h1v1h-1zM212 512h1v1h-1zM213 513h1v1h-1zM214 513h1v1h-1zM215 512h1v1h-1zM216 512h1v1h-1zM217 511h1v1h-1zM218 511h1v1h-1zM219 510h1v1h-1zM220 510h1v1h-1zM221 509h1v1h-1zM222 509h1v1h-1zM223 508h1v1h-1zM224 507h1v1h-1zM225 506h1v1h-1zM226 505h1v1h-1zM227 505h1v1h-1zM228 504h1v1h-1zM229 504h1v1h-1zM230 504h1v1h-1zM231 505h1v1h-1zM232 505h1v1h-1zM233 505h1v1h-1zM234 506h1v1h-1zM235 506h1v1h-1zM236 506h1v1h-1zM237 506h1v1h-1zM238 506h1v1h-1zM239 507h1v2h-1zM240 509h1v2h-1zM241 511h1v2h-1zM242 513h1v2h-1zM243 515h1v1h-1zM244 515h1v1h-1zM245 516h1v1h-1zM246 516h1v1h-1zM247 514h1v2h-1zM248 513h1v1h-1zM249 511h1v2h-1zM250 510h1v1h-1zM251 510h1v1h-1zM252 511h1v1h-1zM253 511h1v1h-1zM254 511h1v1h-1zM255 511h1v1h-1zM256 511h1v1h-1zM257 511h1v1h-1zM258 511h1v1h-1zM259 511h1v1h-1zM260 510h1v1h-1zM261 510h1v1h-1zM262 510h1v1h-1zM263 511h1v2h-1zM264 513h1v1h-1zM265 514h1v2h-1zM266 516h1v1h-1zM267 515h1v1h-1zM268 514h1v1h-1zM269 514h1v1h-1zM270 513h1v1h-1zM271 512h1v1h-1zM272 513h1v1h-1zM273 513h1v1h-1zM274 514h1v1h-1zM275 514h1v1h-1zM276 515h1v1h-1zM277 515h1v1h-1zM278 515h1v1h-1zM279 514h1v1h-1zM280 514h1v1h-1zM281 513h1v1h-1zM282 513h1v1h-1zM283 513h1v1h-1zM284 513h1v1h-1zM285 513h1v1h-1zM286 513h1v1h-1zM287 513h1v1h-1zM288 514h1v1h-1zM289 514h1v1h-1zM290 514h1v1h-1zM291 514h1v1h-1zM292 514h1v1h-1zM293 514h1v1h-1zM294 514h1v1h-1zM295 515h1v1h-1zM296 516h1v1h-1zM297 517h1v1h-1zM298 518h1v1h-1zM299 518h1v1h-1zM300 518h1v1h-1zM301 518h1v1h-1zM302 518h1v1h-1zM303 517h1v1h-1zM304 515h1v2h-1zM305 514h1v1h-1zM306 513h1v1h-1zM307 513h1v1h-1zM308 512h1v1h-1zM309 512h1v1h-1zM310 512h1v1h-1zM311 512h1v1h-1zM312 513h1v1h-1zM313 513h1v1h-1zM314 513h1v1h-1zM315 514h1v2h-1zM316 516h1v2h-1zM317 518h1v2h-1zM318 520h1v1h-1zM319 518h1v2h-1zM320 516h1v2h-1zM321 514h1v2h-1zM322 512h1v2h-1zM323 512h1v1h-1zM324 512h1v1h-1zM325 512h1v1h-1zM326 512h1v1h-1zM327 512h1v1h-1zM328 512h1v1h-1zM329 511h1v1h-1zM330 511h1v1h-1zM331 511h1v1h-1zM332 512h1v1h-1zM333 512h1v1h-1zM334 513h1v1h-1zM335 513h1v1h-1zM336 513h1v1h-1zM337 514h1v1h-1zM338 514h1v1h-1zM339 513h1v1h-1zM340 513h1v1h-1zM341 512h1v1h-1zM342 512h1v1h-1zM343 513h1v1h-1zM344 514h1v1h-1zM345 515h1v1h-1zM346 516h1v1h-1zM347 516h1v1h-1zM348 515h1v1h-1zM349 515h1v1h-1zM350 515h1v1h-1zM351 515h1v1h-1zM352 515h1v1h-1zM353 515h1v1h-1zM354 515h1v1h-1zM355 515h1v1h-1zM356 516h1v1h-1zM357 517h1v1h-1zM358 517h1v1h-1zM359 518h1v1h-1zM360 519h1v2h-1zM361 521h1v1h-1zM362 522h1v2h-1zM363 524h1v1h-1zM364 525h1v1h-1zM365 526h1v1h-1zM366 526h1v1h-1zM367 527h1v1h-1zM368 528h1v1h-1zM369 529h1v1h-1zM370 529h1v1h-1zM371 530h1v1h-1zM372 530h1v1h-1zM373 530h1v1h-1zM374 530h1v1h-1zM375 529h1v1h-1zM376 528h1v1h-1zM377 527h1v1h-1zM378 526h1v1h-1zM379 525h1v1h-1zM380 524h1v1h-1zM381 523h1v1h-1zM382 523h1v1h-1zM383 522h1v1h-1zM384 521h1v1h-1zM385 521h1v1h-1zM386 520h1v1h-1zM387 520h1v1h-1zM388 520h1v1h-1zM389 520h1v1h-1zM390 520h1v1h-1zM391 520h1v1h-1zM392 520h1v1h-1zM393 519h1v1h-1zM394 519h1v1h-1zM395 519h1v1h-1zM396 519h1v1h-1zM397 518h1v1h-1zM398 518h1v1h-1zM399 519h1v1h-1zM400 519h1v1h-1zM401 520h1v1h-1zM402 520h1v1h-1zM403 521h1v1h-1zM404 522h1v1h-1zM405 522h1v1h-1zM406 523h1v1h-1zM407 524h1v1h-1zM408 524h1v1h-1zM409 525h1v1h-1zM410 525h1v1h-1zM411 526h1v1h-1zM412 526h1v1h-1zM413 527h1v1h-1zM414 527h1v1h-1zM415 525h1v2h-1zM416 523h1v2h-1zM417 521h1v2h-1zM418 520h1v1h-1zM419 520h1v1h-1zM420 520h1v1h-1zM421 520h1v1h-1zM422 520h1v1h-1zM423 519h1v1h-1zM424 519h1v1h-1zM425 518h1v1h-1zM426 518h1v1h-1zM427 519h1v1h-1zM428 520h1v1h-1zM429 520h1v1h-1zM430 521h1v1h-1zM431 521h1v1h-1zM432 522h1v1h-1zM433 522h1v1h-1zM434 522h1v1h-1zM435 523h1v1h-1zM436 524h1v1h-1zM437 525h1v1h-1zM438 526h1v1h-1zM439 524h1v2h-1zM440 523h1v1h-1zM441 521h1v2h-1zM442 520h1v1h-1zM443 520h1v1h-1zM444 519h1v1h-1zM445 519h1v1h-1zM446 519h1v1h-1zM447 519h1v1h-1zM448 520h1v1h-1zM449 520h1v1h-1zM450 520h1v1h-1zM451 521h1v1h-1zM452 521h1v1h-1zM453 522h1v1h-1zM454 522h1v1h-1zM455 521h1v1h-1zM456 520h1v1h-1zM457 519h1v1h-1zM458 518h1v1h-1zM459 519h1v1h-1zM460 520h1v1h-1zM461 521h1v1h-1zM462 522h1v1h-1zM463 522h1v1h-1zM464 523h1v1h-1zM465 523h1v1h-1zM466 523h1v1h-1zM467 523h1v1h-1zM468 524h1v1h-1zM469 524h1v1h-1zM470 525h1v1h-1zM471 525h1v1h-1zM472 526h1v1h-1zM473 527h1v1h-1zM474 527h1v1h-1zM475 528h1v1h-1zM476 527h1v1h-1zM477 527h1v1h-1zM478 526h1v1h-1zM479 526h1v1h-1zM480 526h1v1h-1zM481 525h1v1h-1zM482 525h1v1h-1zM483 525h1v1h-1zM484 524h1v1h-1zM485 522h1v2h-1zM486 521h1v1h-1zM487 521h1v1h-1zM488 522h1v1h-1zM489 522h1v1h-1zM490 522h1v1h-1zM491 522h1v1h-1zM492 522h1v1h-1zM493 522h1v1h-1zM494 522h1v1h-1zM495 521h1v1h-1zM496 521h1v1h-1zM497 520h1v1h-1zM498 520h1v1h-1zM499 520h1v1h-1zM500 521h1v1h-1zM501 521h1v1h-1zM502 521h1v1h-1zM503 521h1v1h-1zM504 520h1v1h-1zM505 520h1v1h-1zM506 520h1v1h-1zM507 519h1v1h-1zM508 519h1v1h-1zM509 518h1v1h-1zM510 518h1v1h-1zM511 519h1v1h-1zM512 520h1v1h-1zM513 520h1v1h-1zM514 521h1v1h-1zM515 522h1v1h-1zM516 522h1v1h-1zM517 522h1v1h-1zM518 522h1v1h-1zM519 521h1v1h-1zM520 521h1v1h-1zM521 520h1v1h-1zM522 520h1v1h-1zM523 519h1v1h-1zM524 518h1v1h-1zM525 517h1v1h-1zM526 516h1v1h-1zM527 515h1v1h-1zM528 515h1v1h-1zM529 516h1v1h-1zM530 516h1v1h-1zM531 515h1v1h-1zM532 515h1v1h-1zM533 514h1v1h-1zM534 514h1v1h-1zM535 515h1v1h-1zM536 516h1v2h-1zM537 518h1v1h-1zM538 519h1v1h-1zM539 519h1v1h-1zM540 520h1v1h-1zM541 520h1v1h-1zM542 520h1v1h-1zM543 520h1v1h-1zM544 520h1v1h-1zM545 520h1v1h-1zM546 520h1v1h-1zM547 520h1v1h-1zM548 519h1v1h-1zM549 519h1v1h-1zM550 519h1v1h-1zM551 518h1v1h-1zM552 517h1v1h-1zM553 516h1v1h-1zM554 515h1v1h-1zM555 516h1v1h-1zM556 516h1v1h-1zM557 517h1v1h-1zM558 517h1v1h-1zM559 518h1v1h-1zM560 517h1v1h-1zM561 516h1v1h-1zM562 515h1v1h-1zM563 514h1v1h-1zM564 514h1v1h-1zM565 515h1v1h-1zM566 515h1v1h-1zM567 515h1v1h-1zM568 516h1v1h-1zM569 517h1v1h-1zM570 517h1v1h-1zM571 518h1v1h-1zM572 519h1v2h-1zM573 521h1v2h-1zM574 523h1v2h-1zM575 525h1v1h-1zM576 525h1v1h-1zM577 526h1v1h-1zM578 526h1v1h-1zM579 527h1v1h-1zM580 528h1v1h-1zM581 529h1v1h-1zM582 529h1v1h-1zM583 530h1v1h-1zM584 530h1v1h-1zM585 530h1v1h-1zM586 530h1v1h-1zM587 530h1v1h-1zM588 530h1v1h-1zM589 530h1v1h-1zM590 529h1v2h-1zM591 527h1v2h-1zM592 525h1v2h-1zM593 523h1v2h-1zM594 521h1v2h-1zM595 520h1v1h-1zM596 519h1v1h-1zM597 519h1v1h-1zM598 518h1v1h-1zM599 517h1v1h-1zM600 516h1v1h-1zM601 515h1v1h-1zM602 515h1v1h-1zM603 516h1v1h-1zM604 516h1v1h-1zM605 517h1v1h-1zM606 517h1v1h-1zM607 518h1v1h-1zM608 516h1v2h-1zM609 514h1v2h-1zM610 512h1v2h-1zM611 512h1v1h-1zM612 511h1v1h-1zM613 511h1v1h-1zM614 511h1v1h-1zM615 512h1v1h-1zM616 512h1v1h-1zM617 513h1v1h-1zM618 513h1v1h-1zM619 512h1v1h-1zM620 512h1v1h-1zM621 511h1v1h-1zM622 511h1v1h-1zM623 510h1v1h-1zM624 510h1v1h-1zM625 509h1v1h-1zM626 509h1v1h-1zM627 508h1v1h-1zM628 507h1v1h-1zM629 507h1v1h-1zM630 506h1v1h-1zM631 506h1v1h-1zM632 505h1v1h-1zM633 504h1v1h-1zM634 503h1v1h-1zM635 502h1v1h-1zM636 503h1v1h-1zM637 503h1v1h-1zM638 504h1v1h-1zM639 504h1v1h-1zM640 504h1v1h-1zM641 505h1v1h-1zM642 505h1v1h-1zM643 505h1v1h-1zM644 506h1v1h-1zM645 507h1v2h-1zM646 509h1v1h-1zM647 509h1v1h-1zM648 510h1v1h-1zM649 510h1v1h-1zM650 511h1v1h-1zM651 511h1v1h-1zM652 511h1v1h-1zM653 511h1v1h-1zM654 511h1v1h-1zM655 511h1v1h-1zM656 511h1v1h-1zM657 511h1v1h-1zM658 511h1v1h-1zM659 511h1v1h-1zM660 511h1v1h-1zM661 511h1v1h-1zM662 511h1v1h-1zM663 511h1v1h-1zM664 511h1v1h-1zM665 511h1v1h-1zM666 511h1v1h-1zM667 512h1v1h-1zM668 513h1v1h-1zM669 514h1v1h-1zM670 515h1v1h-1zM671 516h1v1h-1zM672 515h1v1h-1zM673 514h1v1h-1zM674 513h1v1h-1zM675 514h1v1h-1zM676 515h1v1h-1zM677 516h1v1h-1zM678 517h1v1h-1zM679 518h1v1h-1zM680 518h1v1h-1zM681 519h1v1h-1zM682 519h1v1h-1zM683 520h1v1h-1zM684 520h1v1h-1zM685 520h1v1h-1zM686 520h1v1h-1zM687 520h1v1h-1zM688 520h1v1h-1zM689 520h1v1h-1zM690 520h1v1h-1zM691 520h1v1h-1zM692 521h1v1h-1zM693 521h1v1h-1zM694 522h1v1h-1zM695 522h1v1h-1zM696 522h1v1h-1zM697 522h1v1h-1zM698 522h1v1h-1zM699 520h1v2h-1zM700 518h1v2h-1zM701 516h1v2h-1zM702 514h1v2h-1zM703 515h1v1h-1zM704 516h1v1h-1zM705 516h1v1h-1zM706 517h1v1h-1zM707 518h1v1h-1zM708 518h1v1h-1zM709 517h1v1h-1zM710 517h1v1h-1zM711 516h1v1h-1zM712 516h1v1h-1zM713 515h1v1h-1zM714 515h1v1h-1zM715 516h1v1h-1zM716 517h1v1h-1zM717 517h1v1h-1zM718 518h1v1h-1zM719 519h1v1h-1zM720 520h1v1h-1zM721 521h1v1h-1zM722 522h1v1h-1zM723 523h1v1h-1zM724 522h1v1h-1zM725 520h1v2h-1zM726 519h1v1h-1zM727 518h1v1h-1zM728 517h1v1h-1zM729 516h1v1h-1zM730 515h1v1h-1zM731 514h1v1h-1zM732 514h1v1h-1zM733 513h1v1h-1zM734 513h1v1h-1zM735 513h1v1h-1zM736 513h1v1h-1zM737 512h1v1h-1zM738 512h1v1h-1zM739 512h1v1h-1zM740 512h1v1h-1zM741 512h1v1h-1zM742 512h1v1h-1zM743 512h1v1h-1zM744 512h1v1h-1zM745 513h1v1h-1zM746 513h1v1h-1zM747 512h1v1h-1zM748 511h1v1h-1zM749 511h1v1h-1zM750 510h1v1h-1zM751 509h1v1h-1zM752 509h1v1h-1zM753 510h1v1h-1zM754 510h1v1h-1zM755 510h1v1h-1zM756 511h1v1h-1zM757 511h1v1h-1zM758 512h1v1h-1zM759 512h1v1h-1zM760 511h1v1h-1zM761 509h1v2h-1zM762 508h1v1h-1zM763 507h1v1h-1zM764 508h1v1h-1zM765 508h1v1h-1zM766 509h1v1h-1zM767 509h1v1h-1zM768 508h1v1h-1zM769 506h1v2h-1zM770 505h1v1h-1zM771 504h1v1h-1zM772 503h1v1h-1zM773 503h1v1h-1zM774 502h1v1h-1zM775 502h1v1h-1zM776 502h1v1h-1zM777 502h1v1h-1zM778 502h1v1h-1zM779 502h1v1h-1zM780 502h1v1h-1zM781 501h1v1h-1zM782 501h1v1h-1zM783 502h1v1h-1zM784 502h1v1h-1zM785 503h1v1h-1zM786 503h1v1h-1zM787 502h1v1h-1zM788 501h1v1h-1zM789 500h1v1h-1zM790 499h1v1h-1zM791 498h1v1h-1zM792 497h1v1h-1zM793 497h1v1h-1zM794 496h1v1h-1zM795 497h1v2h-1zM796 499h1v2h-1zM797 501h1v2h-1zM798 503h1v1h-1zM799 503h1v1h-1zM800 503h1v1h-1zM801 503h1v1h-1zM802 503h1v1h-1zM803 503h1v1h-1zM804 503h1v1h-1zM805 503h1v1h-1zM806 503h1v1h-1zM807 503h1v1h-1zM808 502h1v1h-1zM809 502h1v1h-1zM810 501h1v1h-1zM811 500h1v1h-1zM812 500h1v1h-1zM813 499h1v1h-1zM814 499h1v1h-1zM815 500h1v1h-1zM816 500h1v1h-1zM817 501h1v1h-1zM818 501h1v1h-1zM819 500h1v1h-1zM820 500h1v1h-1zM821 499h1v1h-1zM822 499h1v1h-1zM823 499h1v1h-1zM824 499h1v1h-1zM825 500h1v1h-1zM826 500h1v1h-1zM827 500h1v1h-1zM828 500h1v1h-1zM829 501h1v1h-1zM830 501h1v1h-1zM831 501h1v1h-1zM832 501h1v1h-1zM833 501h1v1h-1zM834 501h1v2h-1zM835 503h1v3h-1zM836 506h1v2h-1zM837 508h1v3h-1zM838 511h1v2h-1zM839 511h1v1h-1zM840 510h1v1h-1zM841 510h1v1h-1zM842 509h1v1h-1zM843 510h1v2h-1zM844 512h1v1h-1zM845 513h1v2h-1zM846 515h1v1h-1zM847 515h1v1h-1zM848 516h1v1h-1zM849 516h1v1h-1zM850 516h1v1h-1zM851 516h1v1h-1zM852 516h1v1h-1zM853 516h1v1h-1zM854 516h1v1h-1zM855 515h1v1h-1zM856 515h1v1h-1zM857 514h1v1h-1zM858 514h1v1h-1zM859 515h1v1h-1zM860 516h1v1h-1zM861 517h1v1h-1zM862 518h1v1h-1zM863 519h1v1h-1zM864 520h1v1h-1zM865 520h1v1h-1zM866 521h1v1h-1zM867 522h1v1h-1zM868 522h1v1h-1zM869 523h1v1h-1zM870 523h1v1h-1zM871 524h1v1h-1zM872 523h1v1h-1zM873 521h1v2h-1zM874 520h1v1h-1zM875 520h1v1h-1zM876 520h1v1h-1zM877 520h1v1h-1zM878 520h1v1h-1zM879 519h1v1h-1zM880 519h1v1h-1zM881 518h1v1h-1zM882 518h1v1h-1zM883 519h1v1h-1zM884 520h1v1h-1zM885 520h1v1h-1zM886 521h1v1h-1zM887 522h1v1h-1zM888 522h1v1h-1zM889 523h1v1h-1zM890 523h1v1h-1zM891 523h1v1h-1zM892 522h1v1h-1zM893 522h1v1h-1zM894 522h1v1h-1zM895 523h1v1h-1zM896 524h1v1h-1zM897 525h1v1h-1zM898 526h1v1h-1zM899 526h1v1h-1zM900 526h1v1h-1zM901 526h1v1h-1zM902 526h1v1h-1zM903 526h1v1h-1zM904 525h1v1h-1zM905 525h1v1h-1zM906 525h1v1h-1zM907 525h1v1h-1zM908 525h1v1h-1zM909 525h1v1h-1zM910 526h1v1h-1zM911 526h1v1h-1zM912 527h1v1h-1zM913 527h1v1h-1zM914 527h1v1h-1zM915 528h1v1h-1zM916 528h1v1h-1zM917 529h1v1h-1zM918 529h1v1h-1zM919 530h1v1h-1zM920 531h1v1h-1zM921 531h1v1h-1zM922 532h1v1h-1z" fill="#1e90ff"/>
</g>
<g shape-rendering="crispEdges">
<path d="M2 80h1v1h-1zM3 81h1v1h-1zM4 81h1v1h-1zM5 82h1v1h-1zM6 83h1v1h-1zM7 83h1v1h-1zM8 84h1v1h-1zM9 85h1v1h-1zM10 85h1v1h-1zM11 86h1v1h-1zM12 87h1v1h-1zM13 87h1v1h-1zM14 88h1v1h-1zM15 89h1v1h-1zM16 89h1v1h-1zM17 90h1v1h-1zM18 91h1v1h-1zM19 91h1v1h-1zM20 92h1v1h-1zM21 93h1v1h-1zM22 93h1v1h-1zM23 94h1v1h-1zM24 95h1v1h-1zM25 96h1v1h-1zM26 96h1v1h-1zM27 97h1v1h-1zM28 98h1v1h-1zM29 98h1v1h-1zM30 99h1v1h-1zM31 100h1v1h-1zM32 100h1v1h-1zM33 101h1v1h-1zM34 102h1v1h-1zM35 103h1v1h-1zM36 103h1v1h-1zM37 104h1v2h-1zM38 106h1v3h-1zM39 109h1v2h-1zM40 111h1v1h-1zM41 111h1v1h-1zM42 112h1v1h-1zM43 112h1v1h-1zM44 112h1v1h-1zM45 111h1v1h-1zM46 111h1v1h-1zM47 111h1v1h-1zM48 111h1v1h-1zM49 111h1v1h-1zM50 111h1v1h-1zM51 111h1v1h-1zM52 111h1v1h-1zM53 111h1v1h-1zM54 111h1v1h-1zM55 111h1v1h-1zM56 111h1v1h-1zM57 112h1v1h-1zM58 112h1v1h-1zM59 112h1v1h-1zM60 113h1v1h-1zM61 113h1v1h-1zM62 114h1v1h-1zM63 114h1v1h-1zM64 113h1v1h-1zM65 113h1v1h-1zM66 112h1v1h-1zM67 112h1v1h-1zM68 112h1v1h-1zM69 111h1v1h-1zM70 111h1v1h-1zM71 111h1v1h-1zM72 112h1v1h-1zM73 112h1v1h-1zM74 113h1v1h-1zM75 113h1v1h-1zM76 114h1v1h-1zM77 114h1v1h-1zM78 115h1v1h-1zM79 116h1v1h-1zM80 117h1v1h-1zM81 118h1v1h-1zM82 119h1v1h-1zM83 120h1v1h-1zM84 121h1v1h-1zM85 122h1v1h-1zM86 123h1v1h-1zM87 124h1v1h-1zM88 125h1v1h-1zM89 126h1v1h-1zM90 127h1v1h-1zM91 128h1v1h-1zM92 129h1v1h-1zM93 130h1v1h-1zM94 131h1v1h-1zM95 132h1v1h-1zM96 133h1v1h-1zM97 134h1v2h-1zM98 136h1v1h-1zM99 137h1v1h-1zM100 138h1v1h-1zM101 139h1v1h-1zM102 140h1v1h-1zM103 141h1v1h-1zM104 142h1v1h-1zM105 143h1v1h-1zM106 144h1v1h-1zM107 145h1v1h-1zM108 146h1v1h-1zM109 147h1v2h-1zM110 149h1v2h-1zM111 151h1v2h-1zM112 153h1v1h-1zM113 153h1v1h-1zM114 153h1v1h-1zM115 154h1v1h-1zM116 154h1v1h-1zM117 154h1v1h-1zM118 155h1v2h-1zM119 157h1v1h-1zM120 158h1v2h-1zM121 160h1v1h-1zM122 161h1v1h-1zM123 161h1v1h-1zM124 162h1v1h-1zM125 162h1v1h-1zM126 163h1v1h-1zM127 163h1v1h-1zM128 164h1v1h-1zM129 164h1v1h-1zM130 164h1v1h-1zM131 164h1v1h-1zM132 163h1v1h-1zM133 163h1v1h-1zM134 163h1v1h-1zM135 163h1v1h-1zM136 163h1v1h-1zM137 163h1v1h-1zM138 162h1v1h-1zM139 162h1v1h-1zM140 162h1v1h-1zM141 161h1v1h-1zM142 161h1v1h-1zM143 160h1v1h-1zM144 159h1v1h-1zM145 159h1v1h-1zM146 158h1v1h-1zM147 157h1v1h-1zM148 156h1v1h-1zM149 155h1v1h-1zM150 154h1v1h-1zM151 153h1v1h-1zM152 152h1v1h-1zM153 151h1v1h-1zM154 150h1v1h-1zM155 149h1v1h-1zM156 148h1v1h-1zM157 147h1v1h-1zM158 146h1v1h-1zM159 145h1v1h-1zM160 144h1v1h-1zM161 143h1v1h-1zM162 142h1v1h-1zM163 141h1v1h-1zM164 140h1v1h-1zM165 139h1v1h-1zM166 138h1v1h-1zM167 138h1v1h-1zM168 137h1v1h-1zM169 136h1v1h-1zM170 135h1v1h-1zM171 134h1v1h-1zM172 134h1v1h-1zM173 133h1v1h-1zM174 133h1v1h-1zM175 132h1v1h-1zM176 132h1v1h-1zM177 131h1v1h-1zM178 130h1v1h-1zM179 129h1v1h-1zM180 128h1v1h-1zM181 126h1v2h-1zM182 125h1v1h-1zM183 124h1v1h-1zM184 123h1v1h-1zM185 122h1v1h-1zM186 120h1v2h-1zM187 119h1v1h-1zM188 118h1v1h-1zM189 116h1v2h-1zM190 115h1v1h-1zM191 114h1v1h-1zM192 113h1v1h-1zM193 112h1v1h-1zM194 112h1v1h-1zM195 111h1v1h-1zM196 110h1v1h-1zM197 109h1v1h-1zM198 109h1v1h-1zM199 108h1v1h-1zM200 108h1v1h-1zM201 108h1v1h-1zM202 108h1v1h-1zM203 108h1v1h-1zM204 108h1v1h-1zM205 108h1v1h-1zM206 108h1v1h-1zM207 108h1v1h-1zM208 108h1v1h-1zM209 108h1v1h-1zM210 108h1v1h-1zM211 108h1v1h-1zM212 107h1v1h-1zM213 107h1v1h-1zM214 107h1v1h-1zM215 107h1v1h-1zM216 107h1v1h-1zM217 107h1v1h-1zM218 106h1v1h-1zM219 106h1v1h-1zM220 106h1v1h-1zM221 105h1v1h-1zM222 105h1v1h-1zM223 104h1v1h-1zM224 104h1v1h-1zM225 103h1v1h-1zM226 103h1v1h-1zM227 102h1v1h-1zM228 101h1v1h-1zM229 100h1v1h-1zM230 99h1v1h-1zM231 98h1v1h-1zM232 97h1v1h-1zM233 96h1v1h-1zM234 95h1v1h-1zM235 94h1v1h-1zM236 93h1v1h-1zM237 93h1v1h-1zM238 92h1v1h-1zM239 92h1v1h-1zM240 93h1v1h-1zM241 93h1v1h-1zM242 93h1v1h-1zM243 94h1v1h-1zM244 95h1v1h-1zM245 95h1v1h-1zM246 96h1v1h-1zM247 96h1v1h-1zM248 96h1v1h-1zM249 96h1v1h-1zM250 96h1v1h-1zM251 95h1v1h-1zM252 95h1v1h-1zM253 94h1v1h-1zM254 94h1v1h-1zM255 94h1v1h-1zM256 93h1v1h-1zM257 93h1v1h-1zM258 93h1v1h-1zM259 93h1v1h-1zM260 93h1v1h-1zM261 93h1v1h-1zM262 93h1v1h-1zM263 93h1v1h-1zM264 93h1v1h-1zM265 92h1v1h-1zM266 92h1v1h-1zM267 92h1v1h-1zM268 92h1v1h-1zM269 91h1v1h-1zM270 91h1v1h-1zM271 91h1v1h-1zM272 91h1v1h-1zM273 92h1v1h-1zM274 92h1v1h-1zM275 92h1v1h-1zM276 93h1v1h-1zM277 94h1v1h-1zM278 94h1v1h-1zM279 95h1v1h-1zM280 96h1v1h-1zM281 96h1v1h-1zM282 97h1v1h-1zM283 97h1v1h-1zM284 98h1v1h-1zM285 99h1v1h-1zM286 100h1v1h-1zM287 101h1v1h-1zM288 102h1v1h-1zM289 103h1v1h-1zM290 104h1v1h-1zM291 105h1v1h-1zM292 106h1v1h-1zM293 106h1v1h-1zM294 107h1v1h-1zM295 107h1v1h-1zM296 107h1v1h-1zM297 108h1v1h-1zM298 108h1v1h-1zM299 108h1v1h-1zM300 108h1v1h-1zM301 108h1v1h-1zM302 108h1v1h-1zM303 109h1v1h-1zM304 109h1v1h-1zM305 109h1v1h-1zM306 109h1v1h-1zM307 109h1v1h-1zM308 110h1v1h-1zM309 110h1v1h-1zM310 110h1v1h-1zM311 111h1v1h-1zM312 111h1v1h-1zM313 112h1v1h-1zM314 112h1v1h-1zM315 113h1v1h-1zM316 113h1v1h-1zM317 114h1v1h-1zM318 114h1v1h-1zM319 114h1v1h-1zM320 114h1v1h-1zM321 115h1v1h-1zM322 115h1v1h-1zM323 115h1v1h-1zM324 115h1v1h-1zM325 116h1v1h-1zM326 116h1v1h-1zM327 116h1v1h-1zM328 116h1v1h-1zM329 115h1v1h-1zM330 115h1v1h-1zM331 114h1v1h-1zM332 114h1v1h-1zM333 114h1v1h-1zM334 114h1v1h-1zM335 114h1v1h-1zM336 114h1v1h-1zM337 114h1v1h-1zM338 114h1v1h-1zM339 114h1v1h-1zM340 114h1v1h-1zM341 115h1v1h-1zM342 115h1v1h-1zM343 115h1v1h-1zM344 115h1v1h-1zM345 116h1v1h-1zM346 116h1v1h-1zM347 117h1v1h-1zM348 117h1v1h-1zM349 117h1v1h-1zM350 117h1v1h-1zM351 118h1v1h-1zM352 118h1v1h-1zM353 118h1v1h-1zM354 118h1v1h-1zM355 118h1v1h-1zM356 118h1v1h-1zM357 118h1v1h-1zM358 118h1v1h-1zM359 118h1v1h-1zM360 119h1v2h-1zM361 121h1v1h-1zM362 122h1v2h-1zM363 124h1v1h-1zM364 125h1v1h-1zM365 126h1v2h-1zM366 128h1v1h-1zM367 129h1v1h-1zM368 130h1v2h-1zM369 132h1v2h-1zM370 134h1v2h-1zM371 136h1v2h-1zM372 138h1v2h-1zM373 140h1v2h-1zM374 142h1v2h-1zM375 144h1v1h-1zM376 145h1v1h-1zM377 146h1v2h-1zM378 148h1v1h-1zM379 149h1v1h-1zM380 150h1v2h-1zM381 152h1v1h-1zM382 153h1v1h-1zM383 154h1v2h-1zM384 156h1v1h-1zM385 157h1v1h-1zM386 158h1v2h-1zM387 160h1v1h-1zM388 161h1v1h-1zM389 162h1v2h-1zM390 164h1v1h-1zM391 165h1v1h-1zM392 166h1v2h-1zM393 168h1v1h-1zM394 169h1v1h-1zM395 170h1v1h-1zM396 171h1v2h-1zM397 173h1v1h-1zM398 174h1v1h-1zM399 175h1v1h-1zM400 176h1v1h-1zM401 177h1v1h-1zM402 178h1v1h-1zM403 179h1v1h-1zM404 180h1v1h-1zM405 181h1v2h-1zM406 183h1v1h-1zM407 184h1v2h-1zM408 186h1v1h-1zM409 187h1v2h-1zM410 189h1v2h-1zM411 191h1v2h-1zM412 193h1v1h-1zM413 194h1v2h-1zM414 196h1v2h-1zM415 198h1v1h-1zM416 199h1v1h-1zM417 200h1v1h-1zM418 200h1v1h-1zM419 201h1v1h-1zM420 201h1v1h-1zM421 202h1v1h-1zM422 202h1v1h-1zM423 202h1v1h-1zM424 201h1v1h-1zM425 201h1v1h-1zM426 200h1v1h-1zM427 200h1v1h-1zM428 200h1v1h-1zM429 200h1v1h-1zM430 200h1v1h-1zM431 200h1v1h-1zM432 201h1v1h-1zM433 202h1v1h-1zM434 202h1v1h-1zM435 203h1v1h-1zM436 204h1v1h-1zM437 205h1v1h-1zM438 205h1v1h-1zM439 206h1v1h-1zM440 207h1v1h-1zM441 208h1v1h-1zM442 208h1v1h-1zM443 209h1v1h-1zM444 210h1v1h-1zM445 211h1v1h-1zM446 211h1v1h-1zM447 212h1v1h-1zM448 213h1v1h-1zM449 213h1v1h-1zM450 214h1v1h-1zM451 215h1v1h-1zM452 216h1v2h-1zM453 218h1v1h-1zM454 219h1v1h-1zM455 220h1v1h-1zM456 221h1v1h-1zM457 222h1v1h-1zM458 223h1v1h-1zM459 224h1v1h-1zM460 225h1v1h-1zM461 225h1v1h-1zM462 226h1v1h-1zM463 227h1v1h-1zM464 227h1v1h-1zM465 228h1v1h-1zM466 228h1v1h-1zM467 229h1v1h-1zM468 229h1v1h-1zM469 230h1v1h-1zM470 230h1v1h-1zM471 231h1v2h-1zM472 233h1v1h-1zM473 234h1v2h-1zM474 236h1v1h-1zM475 237h1v2h-1zM476 239h1v1h-1zM477 240h1v2h-1zM478 242h1v1h-1zM479 243h1v2h-1zM480 245h1v2h-1zM481 247h1v2h-1zM482 249h1v1h-1zM483 250h1v1h-1zM484 251h1v1h-1zM485 252h1v1h-1zM486 253h1v1h-1zM487 254h1v1h-1zM488 255h1v1h-1zM489 256h1v1h-1zM490 257h1v1h-1zM491 258h1v1h-1zM492 258h1v1h-1zM493 259h1v1h-1zM494 259h1v1h-1zM495 260h1v1h-1zM496 261h1v1h-1zM497 262h1v1h-1zM498 263h1v1h-1zM499 263h1v1h-1zM500 264h1v1h-1zM501 265h1v1h-1zM502 266h1v1h-1zM503 267h1v1h-1zM504 267h1v1h-1zM505 268h1v1h-1zM506 269h1v1h-1zM507 270h1v1h-1zM508 270h1v1h-1zM509 271h1v1h-1zM510 271h1v1h-1zM511 272h1v1h-1zM512 272h1v1h-1zM513 273h1v1h-1zM514 274h1v2h-1zM515 276h1v1h-1zM516 277h1v1h-1zM517 278h1v1h-1zM518 278h1v1h-1zM519 279h1v1h-1zM520 279h1v1h-1zM521 279h1v1h-1zM522 279h1v1h-1zM523 279h1v1h-1zM524 279h1v1h-1zM525 279h1v1h-1zM526 278h1v1h-1zM527 278h1v1h-1zM528 278h1v1h-1zM529 277h1v1h-1zM530 277h1v1h-1zM531 276h1v1h-1zM532 276h1v1h-1zM533 276h1v1h-1zM534 275h1v1h-1zM535 275h1v1h-1zM536 275h1v1h-1zM537 275h1v1h-1zM538 276h1v1h-1zM539 276h1v1h-1zM540 277h1v1h-1zM541 277h1v1h-1zM542 277h1v1h-1zM543 278h1v1h-1zM544 278h1v1h-1zM545 278h1v1h-1zM546 279h1v1h-1zM547 279h1v1h-1zM548 279h1v1h-1zM549 279h1v1h-1zM550 280h1v1h-1zM551 280h1v1h-1zM552 280h1v1h-1zM553 280h1v1h-1zM554 280h1v1h-1zM555 281h1v1h-1zM556 281h1v1h-1zM557 281h1v1h-1zM558 281h1v1h-1zM559 280h1v1h-1zM560 280h1v1h-1zM561 280h1v1h-1zM562 281h1v1h-1zM563 281h1v1h-1zM564 282h1v1h-1zM565 282h1v1h-1zM566 282h1v1h-1zM567 282h1v1h-1zM568 282h1v1h-1zM569 282h1v1h-1zM570 282h1v1h-1zM571 282h1v1h-1zM572 283h1v1h-1zM573 284h1v1h-1zM574 285h1v1h-1zM575 285h1v1h-1zM576 286h1v1h-1zM577 287h1v1h-1zM578 288h1v1h-1zM579 289h1v2h-1zM580 291h1v2h-1zM581 293h1v2h-1zM582 295h1v2h-1zM583 297h1v2h-1zM584 299h1v2h-1zM585 301h1v2h-1zM586 303h1v2h-1zM587 305h1v2h-1zM588 307h1v2h-1zM589 309h1v2h-1zM590 311h1v2h-1zM591 313h1v1h-1zM592 314h1v1h-1zM593 315h1v1h-1zM594 316h1v1h-1zM595 317h1v1h-1zM596 318h1v1h-1zM597 318h1v1h-1zM598 319h1v1h-1zM599 319h1v1h-1zM600 320h1v1h-1zM601 321h1v1h-1zM602 321h1v1h-1zM603 322h1v1h-1zM604 323h1v1h-1zM605 323h1v1h-1zM606 324h1v1h-1zM607 324h1v1h-1zM608 325h1v1h-1zM609 325h1v1h-1zM610 326h1v1h-1zM611 326h1v1h-1zM612 326h1v1h-1zM613 327h1v1h-1zM614 327h1v1h-1zM615 327h1v1h-1zM616 328h1v1h-1zM617 328h1v1h-1zM618 329h1v1h-1zM619 329h1v1h-1zM620 330h1v1h-1zM621 330h1v1h-1zM622 331h1v1h-1zM623 331h1v1h-1zM624 331h1v1h-1zM625 330h1v1h-1zM626 330h1v1h-1zM627 329h1v1h-1zM628 328h1v1h-1zM629 328h1v1h-1zM630 327h1v1h-1zM631 326h1v1h-1zM632 324h1v2h-1zM633 322h1v2h-1zM634 320h1v2h-1zM635 318h1v2h-1zM636 315h1v3h-1zM637 313h1v2h-1zM638 310h1v3h-1zM639 307h1v3h-1zM640 305h1v2h-1zM641 303h1v2h-1zM642 301h1v2h-1zM643 299h1v2h-1zM644 297h1v2h-1zM645 295h1v2h-1zM646 293h1v2h-1zM647 292h1v1h-1zM648 291h1v1h-1zM649 289h1v2h-1zM650 288h1v1h-1zM651 287h1v1h-1zM652 286h1v1h-1zM653 285h1v1h-1zM654 284h1v1h-1zM655 283h1v1h-1zM656 282h1v1h-1zM657 281h1v1h-1zM658 280h1v1h-1zM659 279h1v1h-1zM660 278h1v1h-1zM661 278h1v1h-1zM662 277h1v1h-1zM663 276h1v1h-1zM664 275h1v1h-1zM665 275h1v1h-1zM666 274h1v1h-1zM667 274h1v1h-1zM668 274h1v1h-1zM669 274h1v1h-1zM670 274h1v1h-1zM671 274h1v1h-1zM672 274h1v1h-1zM673 274h1v1h-1zM674 274h1v1h-1zM675 274h1v1h-1zM676 274h1v1h-1zM677 274h1v1h-1zM678 274h1v1h-1zM679 274h1v1h-1zM680 274h1v1h-1zM681 275h1v1h-1zM682 276h1v1h-1zM683 277h1v1h-1zM684 278h1v1h-1zM685 279h1v1h-1zM686 280h1v2h-1zM687 282h1v1h-1zM688 283h1v1h-1zM689 284h1v2h-1zM690 286h1v2h-1zM691 288h1v2h-1zM692 290h1v1h-1zM693 291h1v1h-1zM694 292h1v1h-1zM695 293h1v2h-1zM696 295h1v1h-1zM697 296h1v1h-1zM698 297h1v1h-1zM699 298h1v2h-1zM700 300h1v1h-1zM701 301h1v1h-1zM702 302h1v1h-1zM703 303h1v1h-1zM704 304h1v1h-1zM705 305h1v1h-1zM706 306h1v1h-1zM707 307h1v1h-1zM708 308h1v1h-1zM709 309h1v1h-1zM710 310h1v1h-1zM711 310h1v1h-1zM712 311h1v1h-1zM713 311h1v1h-1zM714 312h1v1h-1zM715 313h1v1h-1zM716 314h1v1h-1zM717 315h1v1h-1zM718 316h1v1h-1zM719 317h1v2h-1zM720 319h1v1h-1zM721 320h1v1h-1zM722 321h1v1h-1zM723 322h1v1h-1zM724 323h1v1h-1zM725 324h1v1h-1zM726 325h1v1h-1zM727 325h1v1h-1zM728 326h1v1h-1zM729 326h1v1h-1zM730 327h1v1h-1zM731 327h1v1h-1zM732 328h1v1h-1zM733 328h1v1h-1zM734 328h1v1h-1zM735 328h1v1h-1zM736 328h1v1h-1zM737 328h1v1h-1zM738 328h1v1h-1zM739 328h1v1h-1zM740 327h1v1h-1zM741 327h1v1h-1zM742 327h1v1h-1zM743 327h1v1h-1zM744 327h1v1h-1zM745 326h1v1h-1zM746 326h1v1h-1zM747 326h1v1h-1zM748 325h1v1h-1zM749 324h1v1h-1zM750 324h1v1h-1zM751 323h1v1h-1zM752 323h1v1h-1zM753 322h1v1h-1zM754 322h1v1h-1zM755 321h1v1h-1zM756 321h1v1h-1zM757 321h1v1h-1zM758 321h1v1h-1zM759 320h1v1h-1zM760 319h1v1h-1zM761 319h1v1h-1zM762 318h1v1h-1zM763 317h1v1h-1zM764 317h1v1h-1zM765 316h1v1h-1zM766 316h1v1h-1zM767 315h1v1h-1zM768 315h1v1h-1zM769 313h1v2h-1zM770 312h1v1h-1zM771 310h1v2h-1zM772 309h1v1h-1zM773 307h1v2h-1zM774 305h1v2h-1zM775 303h1v2h-1zM776 302h1v1h-1zM777 301h1v1h-1zM778 299h1v2h-1zM779 298h1v1h-1zM780 297h1v1h-1zM781 295h1v2h-1zM782 294h1v1h-1zM783 293h1v1h-1zM784 292h1v1h-1zM785 291h1v1h-1zM786 289h1v2h-1zM787 288h1v1h-1zM788 287h1v1h-1zM789 286h1v1h-1zM790 284h1v2h-1zM791 282h1v2h-1zM792 280h1v2h-1zM793 278h1v2h-1zM794 276h1v2h-1zM795 275h1v1h-1zM796 273h1v2h-1zM797 272h1v1h-1zM798 271h1v1h-1zM799 269h1v2h-1zM800 268h1v1h-1zM801 266h1v2h-1zM802 265h1v1h-1zM803 263h1v2h-1zM804 261h1v2h-1zM805 259h1v2h-1zM806 258h1v1h-1zM807 256h1v2h-1zM808 255h1v1h-1zM809 254h1v1h-1zM810 252h1v2h-1zM811 251h1v1h-1zM812 249h1v2h-1zM813 248h1v1h-1zM814 246h1v2h-1zM815 245h1v1h-1zM816 244h1v1h-1zM817 242h1v2h-1zM818 241h1v1h-1zM819 239h1v2h-1zM820 238h1v1h-1zM821 237h1v1h-1zM822 235h1v2h-1zM823 234h1v1h-1zM824 233h1v1h-1zM825 231h1v2h-1zM826 230h1v1h-1zM827 229h1v1h-1zM828 229h1v1h-1zM829 228h1v1h-1zM830 227h1v1h-1zM831 226h1v1h-1zM832 226h1v1h-1zM833 225h1v1h-1zM834 224h1v1h-1zM835 224h1v1h-1zM836 223h1v1h-1zM837 223h1v1h-1zM838 222h1v1h-1zM839 222h1v1h-1zM840 222h1v1h-1zM841 222h1v1h-1zM842 222h1v1h-1zM843 222h1v1h-1zM844 223h1v1h-1zM845 224h1v1h-1zM846 224h1v1h-1zM847 225h1v1h-1zM848 226h1v1h-1zM849 227h1v1h-1zM850 227h1v1h-1zM851 228h1v1h-1zM852 229h1v1h-1zM853 229h1v1h-1zM854 230h1v1h-1zM855 230h1v1h-1zM856 231h1v1h-1zM857 231h1v1h-1zM858 232h1v1h-1zM859 232h1v1h-1zM860 233h1v1h-1zM861 233h1v1h-1zM862 234h1v1h-1zM863 235h1v2h-1zM864 237h1v1h-1zM865 238h1v1h-1zM866 239h1v2h-1zM867 241h1v1h-1zM868 242h1v2h-1zM869 244h1v2h-1zM870 246h1v1h-1zM871 247h1v1h-1zM872 248h1v1h-1zM873 249h1v2h-1zM874 251h1v1h-1zM875 252h1v1h-1zM876 253h1v2h-1zM877 255h1v1h-1zM878 256h1v2h-1zM879 258h1v2h-1zM880 260h1v1h-1zM881 261h1v2h-1zM882 263h1v1h-1zM883 264h1v2h-1zM884 266h1v2h-1zM885 268h1v2h-1zM886 270h1v2h-1zM887 272h1v2h-1zM888 274h1v2h-1zM889 276h1v1h-1zM890 277h1v2h-1zM891 279h1v1h-1zM892 280h1v1h-1zM893 281h1v2h-1zM894 283h1v1h-1zM895 284h1v1h-1zM896 285h1v2h-1zM897 287h1v2h-1zM898 289h1v2h-1zM899 291h1v2h-1zM900 293h1v1h-1zM901 294h1v2h-1zM902 296h1v1h-1zM903 297h1v2h-1zM904 299h1v2h-1zM905 301h1v1h-1zM906 302h1v2h-1zM907 304h1v1h-1zM908 305h1v2h-1zM909 307h1v1h-1zM910 308h1v2h-1zM911 310h1v1h-1zM912 311h1v2h-1zM913 313h1v1h-1zM914 314h1v2h-1zM915 316h1v1h-1zM916 317h1v2h-1zM917 319h1v1h-1zM918 320h1v2h-1zM919 322h1v2h-1zM920 324h1v1h-1zM921 325h1v2h-1zM922 327h1v1h-1z" fill="#ff0000"/>
<path d="M2 70h1v1h-1zM3 71h1v1h-1zM4 71h1v1h-1zM5 72h1v1h-1zM6 72h1v1h-1zM7 73h1v1h-1zM8 73h1v1h-1zM9 74h1v1h-1zM10 74h1v1h-1zM11 75h1v1h-1zM12 75h1v1h-1zM13 76h1v1h-1zM14 76h1v1h-1zM15 77h1v1h-1zM16 78h1v1h-1zM17 78h1v1h-1zM18 79h1v1h-1zM19 79h1v1h-1zM20 80h1v1h-1zM21 80h1v1h-1zM22 81h1v1h-1zM23 81h1v1h-1zM24 82h1v1h-1zM25 82h1v1h-1zM26 83h1v1h-1zM27 83h1v1h-1zM28 84h1v1h-1zM29 84h1v1h-1zM30 85h1v1h-1zM31 86h1v1h-1zM32 86h1v1h-1zM33 87h1v1h-1zM34 87h1v1h-1zM35 88h1v1h-1zM36 88h1v1h-1zM37 89h1v1h-1zM38 90h1v1h-1zM39 90h1v1h-1zM40 91h1v1h-1zM41 91h1v1h-1zM42 92h1v1h-1zM43 92h1v1h-1zM44 93h1v1h-1zM45 94h1v1h-1zM46 94h1v1h-1zM47 95h1v1h-1zM48 95h1v1h-1zM49 96h1v1h-1zM50 97h1v1h-1zM51 97h1v1h-1zM52 98h1v1h-1zM53 98h1v1h-1zM54 99h1v1h-1zM55 99h1v1h-1zM56 100h1v1h-1zM57 101h1v1h-1zM58 101h1v1h-1zM59 102h1v1h-1zM60 102h1v1h-1zM61 103h1v1h-1zM62 103h1v1h-1zM63 104h1v1h-1zM64 105h1v1h-1zM65 106h1v1h-1zM66 107h1v1h-1zM67 108h1v1h-1zM68 109h1v1h-1zM69 109h1v1h-1zM70 110h1v1h-1zM71 110h1v1h-1zM72 111h1v1h-1zM73 111h1v1h-1zM74 112h1v1h-1zM75 113h1v1h-1zM76 114h1v1h-1zM77 115h1v1h-1zM78 116h1v1h-1zM79 117h1v1h-1zM80 118h1v1h-1zM81 119h1v1h-1zM82 119h1v1h-1zM83 120h1v1h-1zM84 121h1v1h-1zM85 122h1v1h-1zM86 123h1v1h-1zM87 124h1v1h-1zM88 125h1v1h-1zM89 126h1v1h-1zM90 126h1v1h-1zM91 127h1v1h-1zM92 127h1v1h-1zM93 128h1v1h-1zM94 128h1v1h-1zM95 129h1v1h-1zM96 129h1v1h-1zM97 130h1v1h-1zM98 130h1v1h-1zM99 131h1v1h-1zM100 131h1v1h-1zM101 132h1v1h-1zM102 132h1v1h-1zM103 132h1v1h-1zM104 133h1v1h-1zM105 133h1v1h-1zM106 133h1v1h-1zM107 134h1v1h-1zM108 134h1v1h-1zM109 134h1v1h-1zM110 134h1v1h-1zM111 135h1v1h-1zM112 135h1v1h-1zM113 136h1v1h-1zM114 136h1v1h-1zM115 137h1v1h-1zM116 137h1v1h-1zM117 138h1v1h-1zM118 139h1v1h-1zM119 139h1v1h-1zM120 140h1v1h-1zM121 141h1v1h-1zM122 141h1v1h-1zM123 142h1v1h-1zM124 143h1v1h-1zM125 143h1v1h-1zM126 144h1v1h-1zM127 145h1v1h-1zM128 145h1v1h-1zM129 146h1v1h-1zM130 147h1v1h-1zM131 147h1v1h-1zM132 148h1v1h-1zM133 149h1v1h-1zM134 149h1v1h-1zM135 150h1v1h-1zM136 151h1v1h-1zM137 152h1v1h-1zM138 153h1v1h-1zM139 154h1v1h-1zM140 154h1v1h-1zM141 154h1v1h-1zM142 154h1v1h-1zM143 154h1v1h-1zM144 155h1v1h-1zM145 156h1v1h-1zM146 156h1v1h-1zM147 157h1v1h-1zM148 156h1v1h-1zM149 156h1v1h-1zM150 155h1v1h-1zM151 156h1v1h-1zM152 156h1v1h-1zM153 157h1v1h-1zM154 157h1v1h-1zM155 156h1v1h-1zM156 155h1v1h-1zM157 155h1v1h-1zM158 154h1v1h-1zM159 153h1v1h-1zM160 152h1v1h-1zM161 151h1v1h-1zM162 151h1v1h-1zM163 150h1v1h-1zM164 149h1v1h-1zM165 148h1v1h-1zM166 148h1v1h-1zM167 147h1v1h-1zM168 147h1v1h-1zM169 146h1v1h-1zM170 145h1v1h-1zM171 145h1v1h-1zM172 144h1v1h-1zM173 144h1v1h-1zM174 143h1v1h-1zM175 142h1v1h-1zM176 142h1v1h-1zM177 141h1v1h-1zM178 140h1v1h-1zM179 140h1v1h-1zM180 139h1v1h-1zM181 138h1v1h-1zM182 137h1v1h-1zM183 136h1v1h-1zM184 135h1v1h-1zM185 134h1v1h-1zM186 133h1v1h-1zM187 132h1v1h-1zM188 131h1v1h-1zM189 130h1v1h-1zM190 129h1v1h-1zM191 128h1v1h-1zM192 128h1v1h-1zM193 127h1v1h-1zM194 126h1v1h-1zM195 126h1v1h-1zM196 125h1v1h-1zM197 125h1v1h-1zM198 124h1v1h-1zM199 124h1v1h-1zM200 123h1v1h-1zM201 123h1v1h-1zM202 123h1v1h-1zM203 122h1v1h-1zM204 122h1v1h-1zM205 122h1v1h-1zM206 121h1v1h-1zM207 121h1v1h-1zM208 120h1v1h-1zM209 119h1v1h-1zM210 119h1v1h-1zM211 118h1v1h-1zM212 117h1v1h-1zM213 116h1v1h-1zM214 115h1v1h-1zM215 115h1v1h-1zM216 114h1v1h-1zM217 113h1v1h-1zM218 112h1v1h-1zM219 111h1v1h-1zM220 110h1v1h-1zM221 110h1v1h-1zM222 109h1v1h-1zM223 108h1v1h-1zM224 107h1v1h-1zM225 106h1v1h-1zM226 106h1v1h-1zM227 105h1v1h-1zM228 104h1v1h-1zM229 103h1v1h-1zM230 103h1v1h-1zM231 102h1v1h-1zM232 102h1v1h-1zM233 101h1v1h-1zM234 101h1v1h-1zM235 100h1v1h-1zM236 100h1v1h-1zM237 99h1v1h-1zM238 99h1v1h-1zM239 99h1v1h-1zM240 99h1v1h-1zM241 99h1v1h-1zM242 99h1v1h-1zM243 100h1v1h-1zM244 100h1v1h-1zM245 101h1v1h-1zM246 101h1v1h-1zM247 100h1v1h-1zM248 100h1v1h-1zM249 99h1v1h-1zM250 99h1v1h-1zM251 99h1v1h-1zM252 98h1v1h-1zM253 98h1v1h-1zM254 98h1v1h-1zM255 97h1v1h-1zM256 97h1v1h-1zM257 96h1v1h-1zM258 96h1v1h-1zM259 96h1v1h-1zM260 96h1v1h-1zM261 96h1v1h-1zM262 96h1v1h-1zM263 96h1v1h-1zM264 96h1v1h-1zM265 97h1v1h-1zM266 97h1v1h-1zM267 97h1v1h-1zM268 97h1v1h-1zM269 97h1v1h-1zM270 97h1v1h-1zM271 97h1v1h-1zM272 97h1v1h-1zM273 98h1v1h-1zM274 98h1v1h-1zM275 98h1v1h-1zM276 98h1v1h-1zM277 99h1v1h-1zM278 99h1v1h-1zM279 99h1v1h-1zM280 99h1v1h-1zM281 100h1v1h-1zM282 100h1v1h-1zM283 100h1v1h-1zM284 100h1v1h-1zM285 99h1v1h-1zM286 99h1v1h-1zM287 99h1v1h-1zM288 99h1v1h-1zM289 98h1v1h-1zM290 98h1v1h-1zM291 98h1v1h-1zM292 98h1v1h-1zM293 99h1v1h-1zM294 99h1v1h-1zM295 99h1v1h-1zM296 99h1v1h-1zM297 100h1v1h-1zM298 100h1v1h-1zM299 100h1v1h-1zM300 100h1v1h-1zM301 100h1v1h-1zM302 100h1v1h-1zM303 101h1v1h-1zM304 101h1v1h-1zM305 101h1v1h-1zM306 101h1v1h-1zM307 101h1v1h-1zM308 102h1v1h-1zM309 102h1v1h-1zM310 102h1v1h-1zM311 103h1v1h-1zM312 104h1v1h-1zM313 104h1v1h-1zM314 105h1v1h-1zM315 106h1v1h-1zM316 107h1v1h-1zM317 107h1v1h-1zM318 108h1v1h-1zM319 109h1v1h-1zM320 109h1v1h-1zM321 110h1v1h-1zM322 110h1v1h-1zM323 110h1v1h-1zM324 110h1v1h-1zM325 110h1v1h-1zM326 110h1v1h-1zM327 110h1v1h-1zM328 110h1v1h-1zM329 110h1v1h-1zM330 111h1v1h-1zM331 111h1v1h-1zM332 111h1v1h-1zM333 111h1v1h-1zM334 111h1v1h-1zM335 112h1v1h-1zM336 112h1v1h-1zM337 112h1v1h-1zM338 112h1v1h-1zM339 112h1v1h-1zM340 112h1v1h-1zM341 113h1v1h-1zM342 113h1v1h-1zM343 113h1v1h-1zM344 113h1v1h-1zM345 114h1v1h-1zM346 114h1v1h-1zM347 115h1v1h-1zM348 115h1v1h-1zM349 115h1v1h-1zM350 115h1v1h-1zM351 116h1v1h-1zM352 116h1v1h-1zM353 116h1v1h-1zM354 116h1v1h-1zM355 116h1v1h-1zM356 116h1v1h-1zM357 117h1v1h-1zM358 117h1v1h-1zM359 117h1v1h-1zM360 118h1v1h-1zM361 119h1v1h-1zM362 119h1v1h-1zM363 120h1v1h-1zM364 121h1v1h-1zM365 122h1v1h-1zM366 123h1v1h-1zM367 124h1v1h-1zM368 125h1v1h-1zM369 126h1v1h-1zM370 127h1v2h-1zM371 129h1v1h-1zM372 130h1v1h-1zM373 131h1v1h-1zM374 132h1v1h-1zM375 133h1v1h-1zM376 134h1v1h-1zM377 135h1v1h-1zM378 136h1v1h-1zM379 137h1v2h-1zM380 139h1v1h-1zM381 140h1v1h-1zM382 141h1v1h-1zM383 141h1v1h-1zM384 142h1v1h-1zM385 143h1v1h-1zM386 144h1v1h-1zM387 144h1v1h-1zM388 145h1v1h-1zM389 146h1v1h-1zM390 147h1v1h-1zM391 148h1v2h-1zM392 150h1v1h-1zM393 151h1v1h-1zM394 152h1v1h-1zM395 152h1v1h-1zM396 153h1v1h-1zM397 153h1v1h-1zM398 154h1v1h-1zM399 154h1v1h-1zM400 155h1v1h-1zM401 155h1v1h-1zM402 156h1v1h-1zM403 157h1v2h-1zM404 159h1v1h-1zM405 160h1v1h-1zM406 161h1v1h-1zM407 162h1v1h-1zM408 163h1v2h-1zM409 165h1v1h-1zM410 166h1v1h-1zM411 167h1v1h-1zM412 168h1v2h-1zM413 170h1v1h-1zM414 171h1v2h-1zM415 173h1v1h-1zM416 174h1v2h-1zM417 176h1v1h-1zM418 177h1v1h-1zM419 178h1v1h-1zM420 179h1v1h-1zM421 180h1v2h-1zM422 182h1v1h-1zM423 183h1v1h-1zM424 184h1v1h-1zM425 185h1v1h-1zM426 186h1v1h-1zM427 187h1v1h-1zM428 188h1v2h-1zM429 190h1v1h-1zM430 191h1v1h-1zM431 192h1v1h-1zM432 193h1v1h-1zM433 194h1v1h-1zM434 195h1v1h-1zM435 196h1v1h-1zM436 197h1v2h-1zM437 199h1v2h-1zM438 201h1v2h-1zM439 203h1v1h-1zM440 204h1v1h-1zM441 204h1v1h-1zM442 205h1v1h-1zM443 206h1v1h-1zM444 206h1v1h-1zM445 207h1v1h-1zM446 207h1v1h-1zM447 208h1v1h-1zM448 208h1v1h-1zM449 209h1v1h-1zM450 209h1v1h-1zM451 209h1v1h-1zM452 209h1v1h-1zM453 210h1v1h-1zM454 210h1v1h-1zM455 210h1v1h-1zM456 210h1v1h-1zM457 210h1v1h-1zM458 211h1v1h-1zM459 211h1v1h-1zM460 211h1v1h-1zM461 212h1v1h-1zM462 212h1v1h-1zM463 213h1v1h-1zM464 214h1v2h-1zM465 216h1v1h-1zM466 217h1v1h-1zM467 218h1v1h-1zM468 218h1v1h-1zM469 219h1v1h-1zM470 219h1v1h-1zM471 220h1v2h-1zM472 222h1v1h-1zM473 223h1v2h-1zM474 225h1v1h-1zM475 226h1v2h-1zM476 228h1v1h-1zM477 229h1v2h-1zM478 231h1v1h-1zM479 232h1v1h-1zM480 233h1v1h-1zM481 234h1v2h-1zM482 236h1v1h-1zM483 237h1v1h-1zM484 238h1v1h-1zM485 239h1v1h-1zM486 240h1v1h-1zM487 240h1v1h-1zM488 241h1v1h-1zM489 242h1v1h-1zM490 243h1v1h-1zM491 244h1v1h-1zM492 244h1v1h-1zM493 245h1v1h-1zM494 246h1v1h-1zM495 247h1v1h-1zM496 247h1v1h-1zM497 248h1v1h-1zM498 248h1v1h-1zM499 249h1v1h-1zM500 249h1v1h-1zM501 250h1v1h-1zM502 251h1v1h-1zM503 252h1v1h-1zM504 252h1v1h-1zM505 253h1v1h-1zM506 254h1v1h-1zM507 255h1v1h-1zM508 256h1v1h-1zM509 257h1v1h-1zM510 257h1v1h-1zM511 258h1v1h-1zM512 259h1v1h-1zM513 260h1v1h-1zM514 261h1v1h-1zM515 261h1v1h-1zM516 262h1v1h-1zM517 263h1v1h-1zM518 263h1v1h-1zM519 264h1v1h-1zM520 264h1v1h-1zM521 264h1v1h-1zM522 265h1v1h-1zM523 265h1v1h-1zM524 266h1v1h-1zM525 266h1v1h-1zM526 267h1v1h-1zM527 267h1v1h-1zM528 268h1v1h-1zM529 268h1v1h-1zM530 269h1v1h-1zM531 270h1v1h-1zM532 270h1v1h-1zM533 271h1v1h-1zM534 272h1v1h-1zM535 272h1v1h-1zM536 273h1v1h-1zM537 274h1v1h-1zM538 274h1v1h-1zM539 275h1v1h-1zM540 275h1v1h-1zM541 276h1v1h-1zM542 277h1v1h-1zM543 277h1v1h-1zM544 278h1v1h-1zM545 278h1v1h-1zM546 279h1v1h-1zM547 279h1v1h-1zM548 279h1v1h-1zM549 279h1v1h-1zM550 280h1v1h-1zM551 280h1v1h-1zM552 280h1v1h-1zM553 280h1v1h-1zM554 280h1v1h-1zM555 280h1v1h-1zM556 280h1v1h-1zM557 280h1v1h-1zM558 280h1v1h-1zM559 280h1v1h-1zM560 280h1v1h-1zM561 280h1v1h-1zM562 280h1v1h-1zM563 279h1v1h-1zM564 279h1v1h-1zM565 279h1v1h-1zM566 279h1v1h-1zM567 279h1v1h-1zM568 279h1v1h-1zM569 280h1v1h-1zM570 280h1v1h-1zM571 280h1v1h-1zM572 281h1v1h-1zM573 281h1v1h-1zM574 282h1v1h-1zM575 282h1v1h-1zM576 283h1v1h-1zM577 283h1v1h-1zM578 284h1v1h-1zM579 285h1v1h-1zM580 286h1v2h-1zM581 288h1v1h-1zM582 289h1v1h-1zM583 290h1v2h-1zM584 292h1v1h-1zM585 293h1v1h-1zM586 294h1v1h-1zM587 295h1v1h-1zM588 296h1v1h-1zM589 297h1v1h-1zM590 298h1v2h-1zM591 300h1v1h-1zM592 301h1v1h-1zM593 302h1v1h-1zM594 303h1v1h-1zM595 304h1v1h-1zM596 304h1v1h-1zM597 305h1v1h-1zM598 305h1v1h-1zM599 306h1v1h-1zM600 306h1v1h-1zM601 307h1v1h-1zM602 307h1v1h-1zM603 308h1v1h-1zM604 308h1v1h-1zM605 309h1v1h-1zM606 309h1v1h-1zM607 310h1v1h-1zM608 310h1v1h-1zM609 311h1v1h-1zM610 311h1v1h-1zM611 312h1v1h-1zM612 312h1v1h-1zM613 313h1v1h-1zM614 313h1v1h-1zM615 314h1v1h-1zM616 314h1v1h-1zM617 315h1v1h-1zM618 315h1v1h-1zM619 316h1v1h-1zM620 316h1v1h-1zM621 316h1v1h-1zM622 316h1v1h-1zM623 316h1v1h-1zM624 316h1v1h-1zM625 316h1v1h-1zM626 316h1v1h-1zM627 316h1v1h-1zM628 315h1v1h-1zM629 315h1v1h-1zM630 314h1v1h-1zM631 313h1v1h-1zM632 313h1v1h-1zM633 312h1v1h-1zM634 311h1v1h-1zM635 311h1v1h-1zM636 310h1v1h-1zM637 310h1v1h-1zM638 309h1v1h-1zM639 309h1v1h-1zM640 308h1v1h-1zM641 308h1v1h-1zM642 307h1v1h-1zM643 307h1v1h-1zM644 307h1v1h-1zM645 307h1v1h-1zM646 307h1v1h-1zM647 307h1v1h-1zM648 307h1v1h-1zM649 307h1v1h-1zM650 307h1v1h-1zM651 307h1v1h-1zM652 307h1v1h-1zM653 307h1v1h-1zM654 307h1v1h-1zM655 307h1v1h-1zM656 306h1v1h-1zM657 306h1v1h-1zM658 305h1v1h-1zM659 304h1v1h-1zM660 304h1v1h-1zM661 303h1v1h-1zM662 302h1v1h-1zM663 301h1v1h-1zM664 300h1v1h-1zM665 299h1v1h-1zM666 298h1v1h-1zM667 297h1v1h-1zM668 296h1v1h-1zM669 295h1v1h-1zM670 294h1v1h-1zM671 293h1v1h-1zM672 292h1v1h-1zM673 291h1v1h-1zM674 290h1v1h-1zM675 288h1v2h-1zM676 287h1v1h-1zM677 287h1v1h-1zM678 286h1v1h-1zM679 286h1v1h-1zM680 286h1v1h-1zM681 286h1v1h-1zM682 286h1v1h-1zM683 286h1v1h-1zM684 286h1v1h-1zM685 286h1v1h-1zM686 287h1v1h-1zM687 287h1v1h-1zM688 287h1v1h-1zM689 286h1v1h-1zM690 286h1v1h-1zM691 286h1v1h-1zM692 287h1v1h-1zM693 287h1v1h-1zM694 287h1v1h-1zM695 288h1v1h-1zM696 289h1v1h-1zM697 290h1v1h-1zM698 290h1v1h-1zM699 290h1v1h-1zM700 290h1v1h-1zM701 291h1v1h-1zM702 291h1v1h-1zM703 291h1v1h-1zM704 291h1v1h-1zM705 291h1v1h-1zM706 291h1v1h-1zM707 292h1v1h-1zM708 292h1v1h-1zM709 293h1v1h-1zM710 293h1v1h-1zM711 294h1v1h-1zM712 294h1v1h-1zM713 295h1v1h-1zM714 296h1v1h-1zM715 296h1v1h-1zM716 297h1v1h-1zM717 298h1v1h-1zM718 299h1v2h-1zM719 301h1v1h-1zM720 302h1v2h-1zM721 304h1v1h-1zM722 305h1v1h-1zM723 306h1v2h-1zM724 308h1v1h-1zM725 309h1v1h-1zM726 310h1v1h-1zM727 310h1v1h-1zM728 311h1v1h-1zM729 312h1v1h-1zM730 312h1v1h-1zM731 313h1v1h-1zM732 313h1v1h-1zM733 314h1v1h-1zM734 314h1v1h-1zM735 315h1v1h-1zM736 315h1v1h-1zM737 316h1v1h-1zM738 316h1v1h-1zM739 317h1v1h-1zM740 317h1v1h-1zM741 317h1v1h-1zM742 318h1v1h-1zM743 318h1v1h-1zM744 319h1v1h-1zM745 319h1v1h-1zM746 319h1v1h-1zM747 320h1v1h-1zM748 320h1v1h-1zM749 320h1v1h-1zM750 321h1v1h-1zM751 321h1v1h-1zM752 321h1v1h-1zM753 321h1v1h-1zM754 321h1v1h-1zM755 322h1v1h-1zM756 322h1v1h-1zM757 322h1v1h-1zM758 322h1v1h-1zM759 322h1v1h-1zM760 321h1v1h-1zM761 321h1v1h-1zM762 320h1v1h-1zM763 320h1v1h-1zM764 320h1v1h-1zM765 319h1v1h-1zM766 319h1v1h-1zM767 318h1v1h-1zM768 318h1v1h-1zM769 318h1v1h-1zM770 317h1v1h-1zM771 317h1v1h-1zM772 316h1v1h-1zM773 315h1v1h-1zM774 314h1v1h-1zM775 312h1v2h-1zM776 311h1v1h-1zM777 310h1v1h-1zM778 309h1v1h-1zM779 308h1v1h-1zM780 307h1v1h-1zM781 306h1v1h-1zM782 305h1v1h-1zM783 304h1v1h-1zM784 304h1v1h-1zM785 303h1v1h-1zM786 303h1v1h-1zM787 303h1v1h-1zM788 302h1v1h-1zM789 300h1v2h-1zM790 299h1v1h-1zM791 298h1v1h-1zM792 296h1v2h-1zM793 295h1v1h-1zM794 294h1v1h-1zM795 293h1v1h-1zM796 292h1v1h-1zM797 290h1v2h-1zM798 289h1v1h-1zM799 288h1v1h-1zM800 287h1v1h-1zM801 286h1v1h-1zM802 284h1v2h-1zM803 283h1v1h-1zM804 281h1v2h-1zM805 280h1v1h-1zM806 278h1v2h-1zM807 277h1v1h-1zM808 275h1v2h-1zM809 274h1v1h-1zM810 273h1v1h-1zM811 271h1v2h-1zM812 270h1v1h-1zM813 269h1v1h-1zM814 267h1v2h-1zM815 266h1v1h-1zM816 265h1v1h-1zM817 264h1v1h-1zM818 263h1v1h-1zM819 261h1v2h-1zM820 260h1v1h-1zM821 259h1v1h-1zM822 258h1v1h-1zM823 256h1v2h-1zM824 255h1v1h-1zM825 254h1v1h-1zM826 253h1v1h-1zM827 252h1v1h-1zM828 250h1v2h-1zM829 249h1v1h-1zM830 248h1v1h-1zM831 247h1v1h-1zM832 246h1v1h-1zM833 245h1v1h-1zM834 244h1v1h-1zM835 243h1v1h-1zM836 242h1v1h-1zM837 241h1v1h-1zM838 240h1v1h-1zM839 239h1v1h-1zM840 239h1v1h-1zM841 238h1v1h-1zM842 237h1v1h-1zM843 237h1v1h-1zM844 236h1v1h-1zM845 236h1v1h-1zM846 236h1v1h-1zM847 235h1v1h-1zM848 235h1v1h-1zM849 235h1v1h-1zM850 235h1v1h-1zM851 235h1v1h-1zM852 235h1v1h-1zM853 235h1v1h-1zM854 235h1v1h-1zM855 235h1v1h-1zM856 235h1v1h-1zM857 235h1v1h-1zM858 235h1v1h-1zM859 235h1v1h-1zM860 235h1v1h-1zM861 235h1v1h-1zM862 236h1v1h-1zM863 236h1v1h-1zM864 237h1v1h-1zM865 237h1v1h-1zM866 238h1v1h-1zM867 238h1v1h-1zM868 238h1v1h-1zM869 239h1v1h-1zM870 239h1v1h-1zM871 240h1v1h-1zM872 240h1v1h-1zM873 241h1v1h-1zM874 242h1v1h-1zM875 243h1v1h-1zM876 244h1v1h-1zM877 245h1v1h-1zM878 246h1v1h-1zM879 247h1v1h-1zM880 248h1v1h-1zM881 248h1v1h-1zM882 249h1v1h-1zM883 249h1v1h-1zM884 250h1v1h-1zM885 251h1v1h-1zM886 252h1v1h-1zM887 253h1v1h-1zM888 254h1v1h-1zM889 255h1v1h-1zM890 256h1v1h-1zM891 257h1v1h-1zM892 258h1v1h-1zM893 259h1v1h-1zM894 260h1v1h-1zM895 261h1v1h-1zM896 262h1v2h-1zM897 264h1v1h-1zM898 265h1v2h-1zM899 267h1v2h-1zM900 269h1v1h-1zM901 270h1v2h-1zM902 272h1v1h-1zM903 273h1v2h-1zM904 275h1v2h-1zM905 277h1v1h-1zM906 278h1v2h-1zM907 280h1v1h-1zM908 281h1v2h-1zM909 283h1v2h-1zM910 285h1v2h-1zM911 287h1v1h-1zM912 288h1v2h-1zM913 290h1v2h-1zM914 292h1v2h-1zM915 294h1v1h-1zM916 295h1v2h-1zM917 297h1v2h-1zM918 299h1v1h-1zM919 300h1v2h-1zM920 302h1v2h-1zM921 304h1v2h-1zM922 306h1v1h-1z" fill="#0000cd"/>
</g>
<g><rect x="2" y="69" width="1" height="45" fill="#ff0000"/>
<rect x="1" y="69" width="3" height="1" fill="#ff0000"/>
<rect x="6" y="95" width="1" height="12" fill="#32cd32"/>
<rect x="5" y="95" width="3" height="11" fill="#32cd32"/>
<rect x="10" y="95" width="1" height="33" fill="#32cd32"/>
<rect x="9" y="95" width="3" height="29" fill="#32cd32"/>
<rect x="14" y="117" width="1" height="47" fill="#32cd32"/>
<rect x="13" y="123" width="3" height="12" fill="#32cd32"/>
<rect x="18" y="119" width="1" height="13" fill="#ff0000"/>
<rect x="17" y="126" width="3" height="6" fill="#ff0000"/>
<rect x="18" y="127" width="1" height="4" fill="#ff4500"/>
<rect x="22" y="123" width="1" height="36" fill="#32cd32"/>
<rect x="21" y="126" width="3" height="24" fill="#32cd32"/>
<rect x="26" y="118" width="1" height="46" fill="#ff0000"/>
<rect x="25" y="123" width="3" height="27" fill="#ff0000"/>
<rect x="26" y="124" width="1" height="25" fill="#ff4500"/>
<rect x="30" y="109" width="1" height="35" fill="#ff0000"/>
<rect x="29" y="116" width="3" height="8" fill="#ff0000"/>
<rect x="30" y="117" width="1" height="6" fill="#ff4500"/>
<rect x="34" y="95" width="1" height="25" fill="#ff0000"/>
<rect x="33" y="95" width="3" height="21" fill="#ff0000"/>
<rect x="34" y="96" width="1" height="19" fill="#ff4500"/>
<rect x="38" y="95" width="1" height="23" fill="#32cd32"/>
<rect x="37" y="95" width="3" height="10" fill="#32cd32"/>
<rect x="42" y="95" width="1" height="13" fill="#ff0000"/>
<rect x="41" y="95" width="3" height="11" fill="#ff0000"/>
<rect x="42" y="96" width="1" height="9" fill="#ff4500"/>
<rect x="46" y="95" width="1" height="33" fill="#32cd32"/>
<rect x="45" y="95" width="3" height="14" fill="#32cd32"/>
<rect x="50" y="95" width="1" height="31" fill="#32cd32"/>
<rect x="49" y="108" width="3" height="2" fill="#32cd32"/>
<rect x="54" y="95" width="1" height="36" fill="#ff0000"/>
<rect x="53" y="95" width="3" height="15" fill="#ff0000"/>
<rect x="54" y="96" width="1" height="13" fill="#ff4500"/>
<rect x="58" y="95" width="1" height="13" fill="#32cd32"/>
<rect x="57" y="95" width="3" height="12" fill="#32cd32"/>
<rect x="62" y="95" width="1" height="27" fill="#32cd32"/>
<rect x="61" y="106" width="3" height="3" fill="#32cd32"/>
<rect x="66" y="117" width="1" height="4" fill="#ff0000"/>
<rect x="65" y="119" width="3" height="1" fill="#ff0000"/>
<rect x="70" y="95" width="1" height="33" fill="#ff0000"/>
<rect x="69" y="109" width="3" height="11" fill="#ff0000"/>
<rect x="70" y="110" width="1" height="9" fill="#ff4500"/>
<rect x="74" y="108" width="1" height="67" fill="#32cd32"/>
<rect x="73" y="109" width="3" height="63" fill="#32cd32"/>
<rect x="78" y="161" width="1" height="23" fill="#32cd32"/>
<rect x="77" y="170" width="3" height="8" fill="#32cd32"/>
<rect x="82" y="167" width="1" height="23" fill="#ff0000"/>
<rect x="81" y="177" width="3" height="1" fill="#ff0000"/>
<rect x="86" y="157" width="1" height="23" fill="#ff0000"/>
<rect x="85" y="164" width="3" height="14" fill="#ff0000"/>
<rect x="86" y="165" width="1" height="12" fill="#ff4500"/>
<rect x="90" y="155" width="1" height="4" fill="#32cd32"/>
<rect x="89" y="157" width="3" height="1" fill="#32cd32"/>
<rect x="94" y="149" width="1" height="19" fill="#ff0000"/>
<rect x="93" y="157" width="3" height="1" fill="#ff0000"/>
<rect x="98" y="145" width="1" height="36" fill="#32cd32"/>
<rect x="97" y="157" width="3" height="14" fill="#32cd32"/>
<rect x="102" y="157" width="1" height="23" fill="#32cd32"/>
<rect x="101" y="170" width="3" height="7" fill="#32cd32"/>
<rect x="106" y="165" width="1" height="39" fill="#ff0000"/>
<rect x="105" y="167" width="3" height="10" fill="#ff0000"/>
<rect x="106" y="168" width="1" height="8" fill="#ff4500"/>
<rect x="110" y="164" width="1" height="7" fill="#ff0000"/>
<rect x="109" y="165" width="3" height="5" fill="#ff0000"/>
<rect x="110" y="166" width="1" height="3" fill="#ff4500"/>
<rect x="114" y="147" width="1" height="28" fill="#ff0000"/>
<rect x="113" y="148" width="3" height="18" fill="#ff0000"/>
<rect x="114" y="149" width="1" height="16" fill="#ff4500"/>
<rect x="118" y="143" width="1" height="29" fill="#ff0000"/>
<rect x="117" y="144" width="3" height="4" fill="#ff0000"/>
<rect x="118" y="145" width="1" height="2" fill="#ff4500"/>
<rect x="122" y="139" width="1" height="35" fill="#32cd32"/>
<rect x="121" y="144" width="3" height="24" fill="#32cd32"/>
<rect x="126" y="147" width="1" height="25" fill="#ff0000"/>
<rect x="125" y="148" width="3" height="20" fill="#ff0000"/>
<rect x="126" y="149" width="1" height="18" fill="#ff4500"/>
<rect x="130" y="147" width="1" height="33" fill="#32cd32"/>
<rect x="129" y="148" width="3" height="15" fill="#32cd32"/>
<rect x="134" y="161" width="1" height="5" fill="#32cd32"/>
<rect x="133" y="163" width="3" height="2" fill="#32cd32"/>
<rect x="138" y="158" width="1" height="19" fill="#ff0000"/>
<rect x="137" y="161" width="3" height="3" fill="#ff0000"/>
<rect x="138" y="162" width="1" height="1" fill="#ff4500"/>
<rect x="142" y="150" width="1" height="31" fill="#ff0000"/>
<rect x="141" y="153" width="3" height="9" fill="#ff0000"/>
<rect x="142" y="154" width="1" height="7" fill="#ff4500"/>
<rect x="146" y="112" width="1" height="44" fill="#ff0000"/>
<rect x="145" y="118" width="3" height="35" fill="#ff0000"/>
<rect x="146" y="119" width="1" height="33" fill="#ff4500"/>
<rect x="150" y="95" width="1" height="32" fill="#ff0000"/>
<rect x="149" y="106" width="3" height="13" fill="#ff0000"/>
<rect x="150" y="107" width="1" height="11" fill="#ff4500"/>
<rect x="154" y="95" width="1" height="24" fill="#32cd32"/>
<rect x="153" y="106" width="3" height="9" fill="#32cd32"/>
<rect x="158" y="119" width="1" height="5" fill="#32cd32"/>
<rect x="157" y="119" width="3" height="5" fill="#32cd32"/>
<rect x="162" y="95" width="1" height="33" fill="#ff0000"/>
<rect x="161" y="95" width="3" height="29" fill="#ff0000"/>
<rect x="162" y="96" width="1" height="27" fill="#ff4500"/>
<rect x="166" y="95" width="1" height="31" fill="#32cd32"/>
<rect x="165" y="95" width="3" height="25" fill="#32cd32"/>
<rect x="170" y="95" width="1" height="34" fill="#ff0000"/>
<rect x="169" y="95" width="3" height="25" fill="#ff0000"/>
<rect x="170" y="96" width="1" height="23" fill="#ff4500"/>
<rect x="174" y="95" width="1" height="39" fill="#32cd32"/>
<rect x="173" y="95" width="3" height="33" fill="#32cd32"/>
<rect x="178" y="95" width="1" height="34" fill="#ff0000"/>
<rect x="177" y="95" width="3" height="33" fill="#ff0000"/>
<rect x="178" y="96" width="1" height="31" fill="#ff4500"/>
<rect x="182" y="106" width="1" height="4" fill="#32cd32"/>
<rect x="181" y="107" width="3" height="3" fill="#32cd32"/>
<rect x="186" y="95" width="1" height="17" fill="#ff0000"/>
<rect x="185" y="95" width="3" height="15" fill="#ff0000"/>
<rect x="186" y="96" width="1" height="13" fill="#ff4500"/>
<rect x="194" y="95" width="1" height="24" fill="#ff0000"/>
<rect x="193" y="95" width="3" height="5" fill="#ff0000"/>
<rect x="194" y="96" width="1" height="3" fill="#ff4500"/>
<rect x="198" y="95" width="1" height="13" fill="#32cd32"/>
<rect x="197" y="95" width="3" height="5" fill="#32cd32"/>
<rect x="202" y="95" width="1" height="34" fill="#32cd32"/>
<rect x="201" y="95" width="3" height="34" fill="#32cd32"/>
<rect x="206" y="120" width="1" height="4" fill="#ff0000"/>
<rect x="205" y="120" width="3" height="3" fill="#ff0000"/>
<rect x="206" y="121" width="1" height="1" fill="#ff4500"/>
<rect x="210" y="95" width="1" height="32" fill="#ff0000"/>
<rect x="209" y="95" width="3" height="25" fill="#ff0000"/>
<rect x="210" y="96" width="1" height="23" fill="#ff4500"/>
<rect x="214" y="95" width="1" height="46" fill="#32cd32"/>
<rect x="213" y="95" width="3" height="29" fill="#32cd32"/>
<rect x="218" y="105" width="1" height="23" fill="#ff0000"/>
<rect x="217" y="107" width="3" height="17" fill="#ff0000"/>
<rect x="218" y="108" width="1" height="15" fill="#ff4500"/>
<rect x="222" y="95" width="1" height="35" fill="#ff0000"/>
<rect x="221" y="95" width="3" height="11" fill="#ff0000"/>
<rect x="222" y="96" width="1" height="9" fill="#ff4500"/>
<rect x="226" y="57" width="1" height="46" fill="#ff0000"/>
<rect x="225" y="64" width="3" height="28" fill="#ff0000"/>
<rect x="226" y="65" width="1" height="26" fill="#ff4500"/>
<rect x="230" y="57" width="1" height="6" fill="#ff0000"/>
<rect x="229" y="58" width="3" height="4" fill="#ff0000"/>
<rect x="230" y="59" width="1" height="2" fill="#ff4500"/>
<rect x="234" y="44" width="1" height="30" fill="#32cd32"/>
<rect x="233" y="59" width="3" height="9" fill="#32cd32"/>
<rect x="238" y="60" width="1" height="17" fill="#32cd32"/>
<rect x="237" y="67" width="3" height="2" fill="#32cd32"/>
<rect x="242" y="66" width="1" height="56" fill="#32cd32"/>
<rect x="241" y="68" width="3" height="48" fill="#32cd32"/>
<rect x="246" y="109" width="1" height="26" fill="#32cd32"/>
<rect x="245" y="115" width="3" height="5" fill="#32cd32"/>
<rect x="250" y="90" width="1" height="34" fill="#ff0000"/>
<rect x="249" y="91" width="3" height="28" fill="#ff0000"/>
<rect x="250" y="92" width="1" height="26" fill="#ff4500"/>
<rect x="254" y="92" width="1" height="5" fill="#ff0000"/>
<rect x="253" y="94" width="3" height="3" fill="#ff0000"/>
<rect x="254" y="95" width="1" height="1" fill="#ff4500"/>
<rect x="258" y="94" width="1" height="23" fill="#32cd32"/>
<rect x="257" y="95" width="3" height="2" fill="#32cd32"/>
<rect x="262" y="79" width="1" height="21" fill="#ff0000"/>
<rect x="261" y="90" width="3" height="7" fill="#ff0000"/>
<rect x="262" y="91" width="1" height="5" fill="#ff4500"/>
<rect x="266" y="86" width="1" height="39" fill="#32cd32"/>
<rect x="265" y="90" width="3" height="31" fill="#32cd32"/>
<rect x="270" y="93" width="1" height="30" fill="#ff0000"/>
<rect x="269" y="98" width="3" height="24" fill="#ff0000"/>
<rect x="270" y="99" width="1" height="22" fill="#ff4500"/>
<rect x="274" y="92" width="1" height="30" fill="#32cd32"/>
<rect x="273" y="98" width="3" height="18" fill="#32cd32"/>
<rect x="278" y="115" width="1" height="4" fill="#32cd32"/>
<rect x="277" y="118" width="3" height="1" fill="#32cd32"/>
<rect x="282" y="103" width="1" height="24" fill="#ff0000"/>
<rect x="281" y="107" width="3" height="12" fill="#ff0000"/>
<rect x="282" y="108" width="1" height="10" fill="#ff4500"/>
<rect x="286" y="95" width="1" height="21" fill="#32cd32"/>
<rect x="285" y="107" width="3" height="1" fill="#32cd32"/>
<rect x="290" y="87" width="1" height="29" fill="#32cd32"/>
<rect x="289" y="107" width="3" height="6" fill="#32cd32"/>
<rect x="294" y="104" width="1" height="16" fill="#ff0000"/>
<rect x="293" y="110" width="3" height="3" fill="#ff0000"/>
<rect x="294" y="111" width="1" height="1" fill="#ff4500"/>
<rect x="298" y="108" width="1" height="32" fill="#32cd32"/>
<rect x="297" y="110" width="3" height="17" fill="#32cd32"/>
<rect x="302" y="123" width="1" height="4" fill="#32cd32"/>
<rect x="301" y="124" width="3" height="3" fill="#32cd32"/>
<rect x="306" y="109" width="1" height="21" fill="#ff0000"/>
<rect x="305" y="109" width="3" height="18" fill="#ff0000"/>
<rect x="306" y="110" width="1" height="16" fill="#ff4500"/>
<rect x="310" y="98" width="1" height="18" fill="#ff0000"/>
<rect x="309" y="104" width="3" height="6" fill="#ff0000"/>
<rect x="310" y="105" width="1" height="4" fill="#ff4500"/>
<rect x="314" y="97" width="1" height="26" fill="#32cd32"/>
<rect x="313" y="104" width="3" height="7" fill="#32cd32"/>
<rect x="318" y="105" width="1" height="49" fill="#32cd32"/>
<rect x="317" y="109" width="3" height="38" fill="#32cd32"/>
<rect x="322" y="109" width="1" height="43" fill="#ff0000"/>
<rect x="321" y="110" width="3" height="37" fill="#ff0000"/>
<rect x="322" y="111" width="1" height="35" fill="#ff4500"/>
<rect x="326" y="110" width="1" height="3" fill="#ff0000"/>
<rect x="325" y="111" width="3" height="2" fill="#ff0000"/>
<rect x="330" y="100" width="1" height="18" fill="#ff0000"/>
<rect x="329" y="104" width="3" height="8" fill="#ff0000"/>
<rect x="330" y="105" width="1" height="6" fill="#ff4500"/>
<rect x="334" y="101" width="1" height="15" fill="#32cd32"/>
<rect x="333" y="104" width="3" height="11" fill="#32cd32"/>
<rect x="338" y="102" width="1" height="17" fill="#32cd32"/>
<rect x="337" y="112" width="3" height="5" fill="#32cd32"/>
<rect x="342" y="101" width="1" height="22" fill="#ff0000"/>
<rect x="341" y="108" width="3" height="8" fill="#ff0000"/>
<rect x="342" y="109" width="1" height="6" fill="#ff4500"/>
<rect x="346" y="96" width="1" height="39" fill="#32cd32"/>
<rect x="345" y="108" width="3" height="21" fill="#32cd32"/>
<rect x="350" y="125" width="1" height="2" fill="#ff0000"/>
<rect x="349" y="126" width="3" height="1" fill="#ff0000"/>
<rect x="354" y="117" width="1" height="16" fill="#ff0000"/>
<rect x="353" y="124" width="3" height="3" fill="#ff0000"/>
<rect x="354" y="125" width="1" height="1" fill="#ff4500"/>
<rect x="358" y="122" width="1" height="20" fill="#32cd32"/>
<rect x="357" y="124" width="3" height="13" fill="#32cd32"/>
<rect x="362" y="123" width="1" height="49" fill="#32cd32"/>
<rect x="361" y="136" width="3" height="32" fill="#32cd32"/>
<rect x="366" y="154" width="1" height="46" fill="#32cd32"/>
<rect x="365" y="167" width="3" height="27" fill="#32cd32"/>
<rect x="370" y="191" width="1" height="38" fill="#32cd32"/>
<rect x="369" y="193" width="3" height="26" fill="#32cd32"/>
<rect x="374" y="216" width="1" height="4" fill="#ff0000"/>
<rect x="373" y="218" width="3" height="1" fill="#ff0000"/>
<rect x="378" y="198" width="1" height="31" fill="#ff0000"/>
<rect x="377" y="203" width="3" height="16" fill="#ff0000"/>
<rect x="378" y="204" width="1" height="14" fill="#ff4500"/>
<rect x="382" y="190" width="1" height="32" fill="#ff0000"/>
<rect x="381" y="195" width="3" height="9" fill="#ff0000"/>
<rect x="382" y="196" width="1" height="7" fill="#ff4500"/>
<rect x="386" y="174" width="1" height="28" fill="#ff0000"/>
<rect x="385" y="186" width="3" height="8" fill="#ff0000"/>
<rect x="386" y="187" width="1" height="6" fill="#ff4500"/>
<rect x="390" y="178" width="1" height="12" fill="#ff0000"/>
<rect x="389" y="182" width="3" height="4" fill="#ff0000"/>
<rect x="390" y="183" width="1" height="2" fill="#ff4500"/>
<rect x="394" y="166" width="1" height="18" fill="#ff0000"/>
<rect x="393" y="180" width="3" height="3" fill="#ff0000"/>
<rect x="394" y="181" width="1" height="1" fill="#ff4500"/>
<rect x="398" y="175" width="1" height="6" fill="#ff0000"/>
<rect x="397" y="176" width="3" height="4" fill="#ff0000"/>
<rect x="398" y="177" width="1" height="2" fill="#ff4500"/>
<rect x="402" y="173" width="1" height="22" fill="#32cd32"/>
<rect x="401" y="176" width="3" height="12" fill="#32cd32"/>
<rect x="406" y="187" width="1" height="29" fill="#32cd32"/>
<rect x="405" y="188" width="3" height="24" fill="#32cd32"/>
<rect x="410" y="206" width="1" height="17" fill="#32cd32"/>
<rect x="409" y="212" width="3" height="8" fill="#32cd32"/>
<rect x="414" y="215" width="1" height="22" fill="#32cd32"/>
<rect x="413" y="219" width="3" height="16" fill="#32cd32"/>
<rect x="418" y="204" width="1" height="37" fill="#ff0000"/>
<rect x="417" y="205" width="3" height="30" fill="#ff0000"/>
<rect x="418" y="206" width="1" height="28" fill="#ff4500"/>
<rect x="422" y="208" width="1" height="3" fill="#32cd32"/>
<rect x="421" y="209" width="3" height="2" fill="#32cd32"/>
<rect x="426" y="197" width="1" height="17" fill="#ff0000"/>
<rect x="425" y="200" width="3" height="10" fill="#ff0000"/>
<rect x="426" y="201" width="1" height="8" fill="#ff4500"/>
<rect x="430" y="174" width="1" height="54" fill="#32cd32"/>
<rect x="429" y="200" width="3" height="22" fill="#32cd32"/>
<rect x="434" y="203" width="1" height="33" fill="#32cd32"/>
<rect x="433" y="221" width="3" height="6" fill="#32cd32"/>
<rect x="438" y="225" width="1" height="31" fill="#32cd32"/>
<rect x="437" y="226" width="3" height="23" fill="#32cd32"/>
<rect x="442" y="222" width="1" height="38" fill="#ff0000"/>
<rect x="441" y="222" width="3" height="27" fill="#ff0000"/>
<rect x="442" y="223" width="1" height="25" fill="#ff4500"/>
<rect x="446" y="222" width="1" height="4" fill="#ff0000"/>
<rect x="445" y="223" width="3" height="1" fill="#ff0000"/>
<rect x="450" y="220" width="1" height="22" fill="#32cd32"/>
<rect x="449" y="223" width="3" height="6" fill="#32cd32"/>
<rect x="454" y="217" width="1" height="35" fill="#32cd32"/>
<rect x="453" y="228" width="3" height="18" fill="#32cd32"/>
<rect x="458" y="224" width="1" height="26" fill="#ff0000"/>
<rect x="457" y="227" width="3" height="19" fill="#ff0000"/>
<rect x="458" y="228" width="1" height="17" fill="#ff4500"/>
<rect x="462" y="225" width="1" height="34" fill="#32cd32"/>
<rect x="461" y="227" width="3" height="27" fill="#32cd32"/>
<rect x="466" y="244" width="1" height="20" fill="#32cd32"/>
<rect x="465" y="253" width="3" height="10" fill="#32cd32"/>
<rect x="470" y="265" width="1" height="5" fill="#32cd32"/>
<rect x="469" y="265" width="3" height="4" fill="#32cd32"/>
<rect x="474" y="267" width="1" height="32" fill="#32cd32"/>
<rect x="473" y="268" width="3" height="24" fill="#32cd32"/>
<rect x="478" y="282" width="1" height="26" fill="#ff0000"/>
<rect x="477" y="290" width="3" height="2" fill="#ff0000"/>
<rect x="482" y="279" width="1" height="27" fill="#ff0000"/>
<rect x="481" y="284" width="3" height="7" fill="#ff0000"/>
<rect x="482" y="285" width="1" height="5" fill="#ff4500"/>
<rect x="486" y="264" width="1" height="25" fill="#ff0000"/>
<rect x="485" y="272" width="3" height="12" fill="#ff0000"/>
<rect x="486" y="273" width="1" height="10" fill="#ff4500"/>
<rect x="490" y="267" width="1" height="16" fill="#32cd32"/>
<rect x="489" y="271" width="3" height="9" fill="#32cd32"/>
<rect x="494" y="277" width="1" height="3" fill="#ff0000"/>
<rect x="493" y="277" width="3" height="3" fill="#ff0000"/>
<rect x="494" y="278" width="1" height="1" fill="#ff4500"/>
<rect x="498" y="267" width="1" height="28" fill="#ff0000"/>
<rect x="497" y="270" width="3" height="8" fill="#ff0000"/>
<rect x="498" y="271" width="1" height="6" fill="#ff4500"/>
<rect x="502" y="268" width="1" height="24" fill="#32cd32"/>
<rect x="501" y="270" width="3" height="9" fill="#32cd32"/>
<rect x="506" y="272" width="1" height="29" fill="#ff0000"/>
<rect x="505" y="273" width="3" height="5" fill="#ff0000"/>
<rect x="506" y="274" width="1" height="3" fill="#ff4500"/>
<rect x="510" y="257" width="1" height="25" fill="#ff0000"/>
<rect x="509" y="265" width="3" height="9" fill="#ff0000"/>
<rect x="510" y="266" width="1" height="7" fill="#ff4500"/>
<rect x="514" y="261" width="1" height="33" fill="#32cd32"/>
<rect x="513" y="265" width="3" height="28" fill="#32cd32"/>
<rect x="518" y="288" width="1" height="2" fill="#32cd32"/>
<rect x="517" y="288" width="3" height="2" fill="#32cd32"/>
<rect x="522" y="271" width="1" height="24" fill="#ff0000"/>
<rect x="521" y="279" width="3" height="11" fill="#ff0000"/>
<rect x="522" y="280" width="1" height="9" fill="#ff4500"/>
<rect x="526" y="259" width="1" height="24" fill="#ff0000"/>
<rect x="525" y="264" width="3" height="16" fill="#ff0000"/>
<rect x="526" y="265" width="1" height="14" fill="#ff4500"/>
<rect x="530" y="251" width="1" height="26" fill="#32cd32"/>
<rect x="529" y="264" width="3" height="8" fill="#32cd32"/>
<rect x="534" y="256" width="1" height="18" fill="#ff0000"/>
<rect x="533" y="261" width="3" height="11" fill="#ff0000"/>
<rect x="534" y="262" width="1" height="9" fill="#ff4500"/>
<rect x="538" y="260" width="1" height="27" fill="#32cd32"/>
<rect x="537" y="261" width="3" height="25" fill="#32cd32"/>
<rect x="542" y="289" width="1" height="6" fill="#32cd32"/>
<rect x="541" y="290" width="3" height="3" fill="#32cd32"/>
<rect x="546" y="278" width="1" height="18" fill="#32cd32"/>
<rect x="545" y="291" width="3" height="4" fill="#32cd32"/>
<rect x="550" y="282" width="1" height="19" fill="#ff0000"/>
<rect x="549" y="288" width="3" height="7" fill="#ff0000"/>
<rect x="550" y="289" width="1" height="5" fill="#ff4500"/>
<rect x="554" y="268" width="1" height="30" fill="#ff0000"/>
<rect x="553" y="276" width="3" height="12" fill="#ff0000"/>
<rect x="554" y="277" width="1" height="10" fill="#ff4500"/>
<rect x="558" y="275" width="1" height="19" fill="#32cd32"/>
<rect x="557" y="276" width="3" height="13" fill="#32cd32"/>
<rect x="562" y="271" width="1" height="22" fill="#ff0000"/>
<rect x="561" y="274" width="3" height="16" fill="#ff0000"/>
<rect x="562" y="275" width="1" height="14" fill="#ff4500"/>
<rect x="566" y="275" width="1" height="5" fill="#32cd32"/>
<rect x="565" y="276" width="3" height="3" fill="#32cd32"/>
<rect x="570" y="277" width="1" height="23" fill="#32cd32"/>
<rect x="569" y="278" width="3" height="12" fill="#32cd32"/>
<rect x="574" y="290" width="1" height="44" fill="#32cd32"/>
<rect x="573" y="290" width="3" height="38" fill="#32cd32"/>
<rect x="578" y="321" width="1" height="19" fill="#32cd32"/>
<rect x="577" y="327" width="3" height="12" fill="#32cd32"/>
<rect x="582" y="337" width="1" height="41" fill="#32cd32"/>
<rect x="581" y="338" width="3" height="39" fill="#32cd32"/>
<rect x="586" y="371" width="1" height="24" fill="#32cd32"/>
<rect x="585" y="376" width="3" height="5" fill="#32cd32"/>
<rect x="590" y="378" width="1" height="3" fill="#ff0000"/>
<rect x="589" y="379" width="3" height="1" fill="#ff0000"/>
<rect x="594" y="344" width="1" height="36" fill="#ff0000"/>
<rect x="593" y="348" width="3" height="32" fill="#ff0000"/>
<rect x="594" y="349" width="1" height="30" fill="#ff4500"/>
<rect x="598" y="319" width="1" height="33" fill="#ff0000"/>
<rect x="597" y="330" width="3" height="18" fill="#ff0000"/>
<rect x="598" y="331" width="1" height="16" fill="#ff4500"/>
<rect x="602" y="316" width="1" height="20" fill="#ff0000"/>
<rect x="601" y="318" width="3" height="13" fill="#ff0000"/>
<rect x="602" y="319" width="1" height="11" fill="#ff4500"/>
<rect x="606" y="316" width="1" height="22" fill="#32cd32"/>
<rect x="605" y="318" width="3" height="18" fill="#32cd32"/>
<rect x="610" y="300" width="1" height="43" fill="#ff0000"/>
<rect x="609" y="302" width="3" height="34" fill="#ff0000"/>
<rect x="610" y="303" width="1" height="32" fill="#ff4500"/>
<rect x="614" y="300" width="1" height="4" fill="#ff0000"/>
<rect x="613" y="300" width="3" height="2" fill="#ff0000"/>
<rect x="618" y="299" width="1" height="15" fill="#32cd32"/>
<rect x="617" y="301" width="3" height="13" fill="#32cd32"/>
<rect x="622" y="289" width="1" height="25" fill="#ff0000"/>
<rect x="621" y="299" width="3" height="14" fill="#ff0000"/>
<rect x="622" y="300" width="1" height="12" fill="#ff4500"/>
<rect x="626" y="270" width="1" height="35" fill="#ff0000"/>
<rect x="625" y="278" width="3" height="22" fill="#ff0000"/>
<rect x="626" y="279" width="1" height="20" fill="#ff4500"/>
<rect x="630" y="258" width="1" height="25" fill="#ff0000"/>
<rect x="629" y="264" width="3" height="15" fill="#ff0000"/>
<rect x="630" y="265" width="1" height="13" fill="#ff4500"/>
<rect x="634" y="228" width="1" height="38" fill="#ff0000"/>
<rect x="633" y="237" width="3" height="27" fill="#ff0000"/>
<rect x="634" y="238" width="1" height="25" fill="#ff4500"/>
<rect x="638" y="239" width="1" height="6" fill="#32cd32"/>
<rect x="637" y="240" width="3" height="5" fill="#32cd32"/>
<rect x="642" y="242" width="1" height="10" fill="#32cd32"/>
<rect x="641" y="243" width="3" height="5" fill="#32cd32"/>
<rect x="646" y="232" width="1" height="43" fill="#32cd32"/>
<rect x="645" y="247" width="3" height="23" fill="#32cd32"/>
<rect x="650" y="261" width="1" height="26" fill="#32cd32"/>
<rect x="649" y="269" width="3" height="12" fill="#32cd32"/>
<rect x="654" y="265" width="1" height="22" fill="#ff0000"/>
<rect x="653" y="277" width="3" height="4" fill="#ff0000"/>
<rect x="654" y="278" width="1" height="2" fill="#ff4500"/>
<rect x="658" y="258" width="1" height="24" fill="#32cd32"/>
<rect x="657" y="277" width="3" height="3" fill="#32cd32"/>
<rect x="662" y="276" width="1" height="4" fill="#32cd32"/>
<rect x="661" y="277" width="3" height="3" fill="#32cd32"/>
<rect x="666" y="274" width="1" height="18" fill="#32cd32"/>
<rect x="665" y="278" width="3" height="1" fill="#32cd32"/>
<rect x="670" y="275" width="1" height="27" fill="#32cd32"/>
<rect x="669" y="278" width="3" height="23" fill="#32cd32"/>
<rect x="674" y="288" width="1" height="20" fill="#ff0000"/>
<rect x="673" y="289" width="3" height="11" fill="#ff0000"/>
<rect x="674" y="290" width="1" height="9" fill="#ff4500"/>
<rect x="678" y="286" width="1" height="34" fill="#32cd32"/>
<rect x="677" y="288" width="3" height="23" fill="#32cd32"/>
<rect x="682" y="297" width="1" height="26" fill="#32cd32"/>
<rect x="681" y="311" width="3" height="10" fill="#32cd32"/>
<rect x="686" y="323" width="1" height="3" fill="#32cd32"/>
<rect x="685" y="323" width="3" height="1" fill="#32cd32"/>
<rect x="690" y="321" width="1" height="23" fill="#32cd32"/>
<rect x="689" y="324" width="3" height="1" fill="#32cd32"/>
<rect x="694" y="315" width="1" height="28" fill="#32cd32"/>
<rect x="693" y="325" width="3" height="15" fill="#32cd32"/>
<rect x="698" y="309" width="1" height="33" fill="#ff0000"/>
<rect x="697" y="337" width="3" height="3" fill="#ff0000"/>
<rect x="698" y="338" width="1" height="1" fill="#ff4500"/>
<rect x="702" y="300" width="1" height="42" fill="#ff0000"/>
<rect x="701" y="309" width="3" height="29" fill="#ff0000"/>
<rect x="702" y="310" width="1" height="27" fill="#ff4500"/>
<rect x="706" y="300" width="1" height="36" fill="#32cd32"/>
<rect x="705" y="309" width="3" height="19" fill="#32cd32"/>
<rect x="710" y="321" width="1" height="5" fill="#ff0000"/>
<rect x="709" y="323" width="3" height="2" fill="#ff0000"/>
<rect x="714" y="310" width="1" height="21" fill="#ff0000"/>
<rect x="713" y="316" width="3" height="8" fill="#ff0000"/>
<rect x="714" y="317" width="1" height="6" fill="#ff4500"/>
<rect x="718" y="302" width="1" height="38" fill="#32cd32"/>
<rect x="717" y="316" width="3" height="17" fill="#32cd32"/>
<rect x="722" y="324" width="1" height="40" fill="#32cd32"/>
<rect x="721" y="332" width="3" height="30" fill="#32cd32"/>
<rect x="726" y="325" width="1" height="38" fill="#ff0000"/>
<rect x="725" y="339" width="3" height="23" fill="#ff0000"/>
<rect x="726" y="340" width="1" height="21" fill="#ff4500"/>
<rect x="730" y="318" width="1" height="38" fill="#ff0000"/>
<rect x="729" y="322" width="3" height="18" fill="#ff0000"/>
<rect x="730" y="323" width="1" height="16" fill="#ff4500"/>
<rect x="734" y="316" width="1" height="3" fill="#32cd32"/>
<rect x="733" y="317" width="3" height="2" fill="#32cd32"/>
<rect x="738" y="305" width="1" height="24" fill="#ff0000"/>
<rect x="737" y="312" width="3" height="6" fill="#ff0000"/>
<rect x="738" y="313" width="1" height="4" fill="#ff4500"/>
<rect x="742" y="307" width="1" height="23" fill="#32cd32"/>
<rect x="741" y="312" width="3" height="2" fill="#32cd32"/>
<rect x="746" y="311" width="1" height="29" fill="#32cd32"/>
<rect x="745" y="313" width="3" height="3" fill="#32cd32"/>
<rect x="750" y="296" width="1" height="25" fill="#ff0000"/>
<rect x="749" y="300" width="3" height="15" fill="#ff0000"/>
<rect x="750" y="301" width="1" height="13" fill="#ff4500"/>
<rect x="754" y="290" width="1" height="23" fill="#32cd32"/>
<rect x="753" y="300" width="3" height="2" fill="#32cd32"/>
<rect x="758" y="305" width="1" height="7" fill="#32cd32"/>
<rect x="757" y="306" width="3" height="5" fill="#32cd32"/>
<rect x="762" y="275" width="1" height="36" fill="#ff0000"/>
<rect x="761" y="286" width="3" height="25" fill="#ff0000"/>
<rect x="762" y="287" width="1" height="23" fill="#ff4500"/>
<rect x="766" y="270" width="1" height="24" fill="#32cd32"/>
<rect x="765" y="286" width="3" height="7" fill="#32cd32"/>
<rect x="770" y="270" width="1" height="28" fill="#ff0000"/>
<rect x="769" y="270" width="3" height="23" fill="#ff0000"/>
<rect x="770" y="271" width="1" height="21" fill="#ff4500"/>
<rect x="774" y="251" width="1" height="25" fill="#ff0000"/>
<rect x="773" y="257" width="3" height="14" fill="#ff0000"/>
<rect x="774" y="258" width="1" height="12" fill="#ff4500"/>
<rect x="778" y="245" width="1" height="17" fill="#ff0000"/>
<rect x="777" y="254" width="3" height="4" fill="#ff0000"/>
<rect x="778" y="255" width="1" height="2" fill="#ff4500"/>
<rect x="782" y="249" width="1" height="5" fill="#ff0000"/>
<rect x="781" y="252" width="3" height="2" fill="#ff0000"/>
<rect x="786" y="251" width="1" height="22" fill="#32cd32"/>
<rect x="785" y="251" width="3" height="6" fill="#32cd32"/>
<rect x="790" y="225" width="1" height="32" fill="#ff0000"/>
<rect x="789" y="229" width="3" height="28" fill="#ff0000"/>
<rect x="790" y="230" width="1" height="26" fill="#ff4500"/>
<rect x="794" y="208" width="1" height="27" fill="#ff0000"/>
<rect x="793" y="212" width="3" height="17" fill="#ff0000"/>
<rect x="794" y="213" width="1" height="15" fill="#ff4500"/>
<rect x="798" y="198" width="1" height="40" fill="#32cd32"/>
<rect x="797" y="211" width="3" height="25" fill="#32cd32"/>
<rect x="802" y="213" width="1" height="27" fill="#ff0000"/>
<rect x="801" y="234" width="3" height="1" fill="#ff0000"/>
<rect x="806" y="231" width="1" height="4" fill="#32cd32"/>
<rect x="805" y="232" width="3" height="1" fill="#32cd32"/>
<rect x="810" y="216" width="1" height="19" fill="#ff0000"/>
<rect x="809" y="222" width="3" height="11" fill="#ff0000"/>
<rect x="810" y="223" width="1" height="9" fill="#ff4500"/>
<rect x="814" y="207" width="1" height="17" fill="#ff0000"/>
<rect x="813" y="213" width="3" height="10" fill="#ff0000"/>
<rect x="814" y="214" width="1" height="8" fill="#ff4500"/>
<rect x="818" y="202" width="1" height="23" fill="#32cd32"/>
<rect x="817" y="213" width="3" height="6" fill="#32cd32"/>
<rect x="822" y="195" width="1" height="33" fill="#ff0000"/>
<rect x="821" y="204" width="3" height="15" fill="#ff0000"/>
<rect x="822" y="205" width="1" height="13" fill="#ff4500"/>
<rect x="826" y="194" width="1" height="25" fill="#32cd32"/>
<rect x="825" y="204" width="3" height="4" fill="#32cd32"/>
<rect x="830" y="210" width="1" height="4" fill="#ff0000"/>
<rect x="829" y="210" width="3" height="2" fill="#ff0000"/>
<rect x="834" y="202" width="1" height="23" fill="#ff0000"/>
<rect x="833" y="209" width="3" height="2" fill="#ff0000"/>
<rect x="838" y="204" width="1" height="51" fill="#32cd32"/>
<rect x="837" y="209" width="3" height="39" fill="#32cd32"/>
<rect x="842" y="231" width="1" height="27" fill="#ff0000"/>
<rect x="841" y="232" width="3" height="16" fill="#ff0000"/>
<rect x="842" y="233" width="1" height="14" fill="#ff4500"/>
<rect x="846" y="231" width="1" height="40" fill="#32cd32"/>
<rect x="845" y="232" width="3" height="28" fill="#32cd32"/>
<rect x="850" y="257" width="1" height="25" fill="#32cd32"/>
<rect x="849" y="259" width="3" height="8" fill="#32cd32"/>
<rect x="854" y="262" width="1" height="4" fill="#32cd32"/>
<rect x="853" y="264" width="3" height="1" fill="#32cd32"/>
<rect x="858" y="249" width="1" height="22" fill="#ff0000"/>
<rect x="857" y="256" width="3" height="10" fill="#ff0000"/>
<rect x="858" y="257" width="1" height="8" fill="#ff4500"/>
<rect x="862" y="249" width="1" height="32" fill="#32cd32"/>
<rect x="861" y="256" width="3" height="19" fill="#32cd32"/>
<rect x="866" y="266" width="1" height="32" fill="#32cd32"/>
<rect x="865" y="274" width="3" height="19" fill="#32cd32"/>
<rect x="870" y="289" width="1" height="25" fill="#32cd32"/>
<rect x="869" y="292" width="3" height="20" fill="#32cd32"/>
<rect x="874" y="292" width="1" height="27" fill="#ff0000"/>
<rect x="873" y="294" width="3" height="18" fill="#ff0000"/>
<rect x="874" y="295" width="1" height="16" fill="#ff4500"/>
<rect x="878" y="291" width="1" height="3" fill="#ff0000"/>
<rect x="877" y="293" width="3" height="1" fill="#ff0000"/>
<rect x="882" y="276" width="1" height="22" fill="#ff0000"/>
<rect x="881" y="287" width="3" height="6" fill="#ff0000"/>
<rect x="882" y="288" width="1" height="4" fill="#ff4500"/>
<rect x="886" y="277" width="1" height="35" fill="#32cd32"/>
<rect x="885" y="287" width="3" height="21" fill="#32cd32"/>
<rect x="890" y="305" width="1" height="22" fill="#32cd32"/>
<rect x="889" y="307" width="3" height="15" fill="#32cd32"/>
<rect x="894" y="310" width="1" height="21" fill="#ff0000"/>
<rect x="893" y="318" width="3" height="4" fill="#ff0000"/>
<rect x="894" y="319" width="1" height="2" fill="#ff4500"/>
<rect x="898" y="311" width="1" height="29" fill="#32cd32"/>
<rect x="897" y="318" width="3" height="18" fill="#32cd32"/>
<rect x="902" y="336" width="1" height="4" fill="#ff0000"/>
<rect x="901" y="338" width="3" height="1" fill="#ff0000"/>
<rect x="906" y="319" width="1" height="24" fill="#32cd32"/>
<rect x="905" y="338" width="3" height="4" fill="#32cd32"/>
<rect x="910" y="336" width="1" height="14" fill="#32cd32"/>
<rect x="909" y="340" width="3" height="4" fill="#32cd32"/>
<rect x="914" y="340" width="1" height="20" fill="#32cd32"/>
<rect x="913" y="342" width="3" height="10" fill="#32cd32"/>
<rect x="918" y="348" width="1" height="16" fill="#32cd32"/>
<rect x="917" y="351" width="3" height="13" fill="#32cd32"/>
<rect x="922" y="362" width="1" height="30" fill="#32cd32"/>
<rect x="921" y="364" width="3" height="26" fill="#32cd32"/></g>
<rect x="1" y="25" width="1" height="379" fill="#000"/><rect x="3" y="43" width="223" height="61" fill="#fff"/>
<g class="ax">
<text x="1170.3" y="41" textLength="32.4" lengthAdjust="spacingAndGlyphs">0.79070</text>
<text x="1170.3" y="74" textLength="32.4" lengthAdjust="spacingAndGlyphs">0.78330</text>
<text x="1170.3" y="107" textLength="32.4" lengthAdjust="spacingAndGlyphs">0.77570</text>
<text x="1170.3" y="173" textLength="32.4" lengthAdjust="spacingAndGlyphs">0.76090</text>
<text x="1170.3" y="206" textLength="32.4" lengthAdjust="spacingAndGlyphs">0.75350</text>
<text x="1170.3" y="239" textLength="32.4" lengthAdjust="spacingAndGlyphs">0.74610</text>
<text x="1170.3" y="272" textLength="32.4" lengthAdjust="spacingAndGlyphs">0.73870</text>
<text x="1170.3" y="305" textLength="32.4" lengthAdjust="spacingAndGlyphs">0.73130</text>
<text x="1170.3" y="371" textLength="32.4" lengthAdjust="spacingAndGlyphs">0.71650</text>
<text x="1170.3" y="404" textLength="32.4" lengthAdjust="spacingAndGlyphs">0.70910</text>
<text x="1168.3" y="416" textLength="37" lengthAdjust="spacingAndGlyphs">0.006094</text><text x="1168.3" y="441.5" textLength="17.5" lengthAdjust="spacingAndGlyphs">0.00</text><text x="1168.3" y="471" textLength="37.5" lengthAdjust="spacingAndGlyphs">-0.00695</text>
<text x="1168" y="487">100</text><text x="1167" y="502">70</text><text x="1167" y="530">30</text><text x="1168" y="545">0</text>
<text x="1" y="561">2 Mar 2021</text>
<text x="65" y="561">21 Mar 2021</text>
<text x="129" y="561">9 Apr 2021</text>
<text x="193" y="561">28 Apr 2021</text>
<text x="257" y="561">17 May 2021</text>
<text x="321" y="561">4 Jun 2021</text>
<text x="385" y="561">23 Jun 2021</text>
<text x="449" y="561">12 Jul 2021</text>
<text x="513" y="561">30 Jul 2021</text>
<text x="577" y="561">18 Aug 2021</text>
<text x="641" y="561">6 Sep 2021</text>
<text x="705" y="561">24 Sep 2021</text>
<text x="769" y="561">13 Oct 2021</text>
<text x="833" y="561">1 Nov 2021</text>
<text x="897" y="561">19 Nov 2021</text>
<text x="17.5" y="36.8" style="font-size:9.6px" textLength="68.2" lengthAdjust="spacingAndGlyphs">AUDUSD-,Daily</text><text x="92.1" y="36.8" style="font-size:9.6px" textLength="140.7" lengthAdjust="spacingAndGlyphs">0.71725 0.71765 0.71111 0.71163</text>
<text x="6" y="418">MACD(12,26,9) -0.006297 -0.004603</text>
<text x="6" y="488.5">RSI(14) 22.2906</text>
</g>
<polygon points="5,36 12,36 8.5,32" fill="#000" shape-rendering="auto"/>
<rect x="1166" y="384" width="38" height="11" fill="#000"/><text class="axw" x="1170.5" y="393" textLength="32.3" lengthAdjust="spacingAndGlyphs">0.71163</text>
<rect x="1166" y="131" width="38" height="11" fill="#ff0000"/><text class="axw" x="1170.5" y="140" textLength="32.3" lengthAdjust="spacingAndGlyphs">0.76819</text>
<rect x="1166" y="189" width="38" height="11" fill="#ff0000"/><text class="axw" x="1170.5" y="198" textLength="32.3" lengthAdjust="spacingAndGlyphs">0.75509</text>
<rect x="1166" y="256" width="38" height="11" fill="#00ff00"/><text class="axw" x="1170.5" y="265" textLength="32.3" lengthAdjust="spacingAndGlyphs">0.74003</text>
<rect x="1166" y="327" width="38" height="11" fill="#0000ff"/><text class="axw" x="1170.5" y="336" textLength="32.3" lengthAdjust="spacingAndGlyphs">0.72406</text>
<rect x="1166" y="388" width="38" height="11" fill="#0000ff"/><text class="axw" x="1170.5" y="397" textLength="32.3" lengthAdjust="spacingAndGlyphs">0.71052</text>
</svg>
<div id="panel" style="position:absolute;left:0;top:0;width:230px;height:110px;pointer-events:none;">
<style>
#panel div{position:absolute;box-sizing:border-box;}
#panel .red{background:linear-gradient(#f85252 0px,#e23232 24px,#cf2020 34px,#b00404 57px);background-size:100% 57px;border:1px solid #b40808;}
#panel .lbl{color:#ffe8e0;font-size:10.8px;line-height:12px;white-space:nowrap;}
#panel .sm{color:#fff;font-weight:bold;font-size:12px;line-height:12px;white-space:nowrap;}
#panel .big{color:#fff;font-size:31.6px;line-height:32px;white-space:nowrap;letter-spacing:-0.6px;}
#panel .sup{color:#fff;font-weight:bold;font-size:11.4px;line-height:11px;}
</style>
<!-- SELL tab -->
<div class="red" style="left:5px;top:45px;width:52px;height:25px;border-bottom:none;background-position:0 0;"></div>
<!-- SELL price box -->
<div class="red" style="left:5px;top:69px;width:109px;height:33px;background-position:0 -24px;border-top-color:#b40808;"></div>
<div style="left:6px;top:46px;width:50px;height:24px;background:linear-gradient(#f85252,#e23232);"></div>
<div style="left:9px;top:69px;width:44px;height:1px;background:#8e1414;"></div>
<div style="left:9px;top:70px;width:44px;height:1px;background:#ee6a6a;"></div>
<div class="lbl" style="left:17px;top:50px;">SELL</div>
<div class="sm" style="left:25px;top:86px;">0.71</div>
<div class="big" style="left:53px;top:68.5px;">16</div>
<div class="sup" style="left:92px;top:71.5px;">3</div>
<!-- BUY tab -->
<div class="red" style="left:172px;top:45px;width:52px;height:25px;border-bottom:none;background-position:0 0;"></div>
<div class="red" style="left:116px;top:69px;width:108px;height:33px;background-position:0 -24px;"></div>
<div style="left:173px;top:46px;width:50px;height:24px;background:linear-gradient(#f85252,#e23232);"></div>
<div style="left:176px;top:69px;width:44px;height:1px;background:#8e1414;"></div>
<div style="left:176px;top:70px;width:44px;height:1px;background:#ee6a6a;"></div>
<div class="lbl" style="left:185.5px;top:50px;">BUY</div>
<div class="sm" style="left:135px;top:86px;">0.71</div>
<div class="big" style="left:164px;top:68.5px;">20</div>
<div class="sup" style="left:203px;top:71.5px;">9</div>
<!-- volume box -->
<div style="left:57px;top:45px;width:115px;height:24px;background:#fff;"></div>
<div style="left:59px;top:45px;width:111px;height:22px;background:#fff;border:1px solid #a9abb3;"></div>
<div style="left:61px;top:47px;width:18px;height:18px;background:linear-gradient(#f2f2f2 0,#ebebeb 6px,#dadada 6px,#d2d2d2 18px);"></div>
<div style="left:80px;top:46px;width:1px;height:20px;background:#a9abb3;"></div>
<div style="left:148px;top:46px;width:1px;height:20px;background:#a9abb3;"></div>
<div style="left:150px;top:47px;width:18px;height:18px;background:linear-gradient(#f2f2f2 0,#ebebeb 6px,#dadada 6px,#d2d2d2 18px);"></div>
<div style="left:100px;top:48px;width:44px;height:16px;color:#000;font-size:11.8px;line-height:16px;text-align:right;">0.01</div>
<svg width="230" height="110" viewBox="0 0 230 110" style="position:absolute;left:0;top:0"><polygon points="66.5,54 72.5,54 69.5,57.5" fill="#3f5fc4"/><polygon points="155.5,57.5 161.5,57.5 158.5,54" fill="#3f5fc4"/></svg>
</div>

<div id="tabs"><div style="position:absolute;left:0;top:0;width:1204px;height:1px;background:#e3e3e3"></div><div style="position:absolute;left:0;top:1px;width:1204px;height:1px;background:#fff"></div><div style="position:absolute;left:0;top:2px;width:1204px;height:1px;background:#000"></div>
<div style="position:absolute;left:0;top:3px;width:1204px;height:1px;background:#fafafa"></div><div style="position:absolute;left:0;top:22px;width:1204px;height:1px;background:#fff"></div>
<div class="act"><span>AUDUSD-,Daily</span></div>
<span class="t" style="left:14.5px">USDX,Weekly</span>
<span class="t" style="left:114px">EURUSD-,Daily</span>
<span class="t" style="left:331px">USDCHF-,H4</span>
<span class="t" style="left:426px">USDCAD-,Daily</span>
<span class="t" style="left:535.5px">USDCNH-,Daily</span>
<span class="t" style="left:646px">XAUUSD-,Daily</span>
<span class="t" style="left:754.5px">UKOil-,H1</span>
<span class="t" style="left:834px">DJ30-,Weekly</span>
<span class="t" style="left:933px">UK100-,Daily</span>
<div class="s" style="left:103px"></div>
<div class="s" style="left:415px"></div>
<div class="s" style="left:524px"></div>
<div class="s" style="left:635px"></div>
<div class="s" style="left:743px"></div>
<div class="s" style="left:823px"></div>
<div class="s" style="left:922px"></div>
<div class="s" style="left:1018px"></div>
<svg width="40" height="12" style="left:1170px;top:6px" viewBox="0 0 40 12"><polygon points="14,2 14,9 10,5.5" fill="#858585"/><polygon points="29,2 29,9 33,5.5" fill="#858585"/></svg>
</div>
</body></html>
